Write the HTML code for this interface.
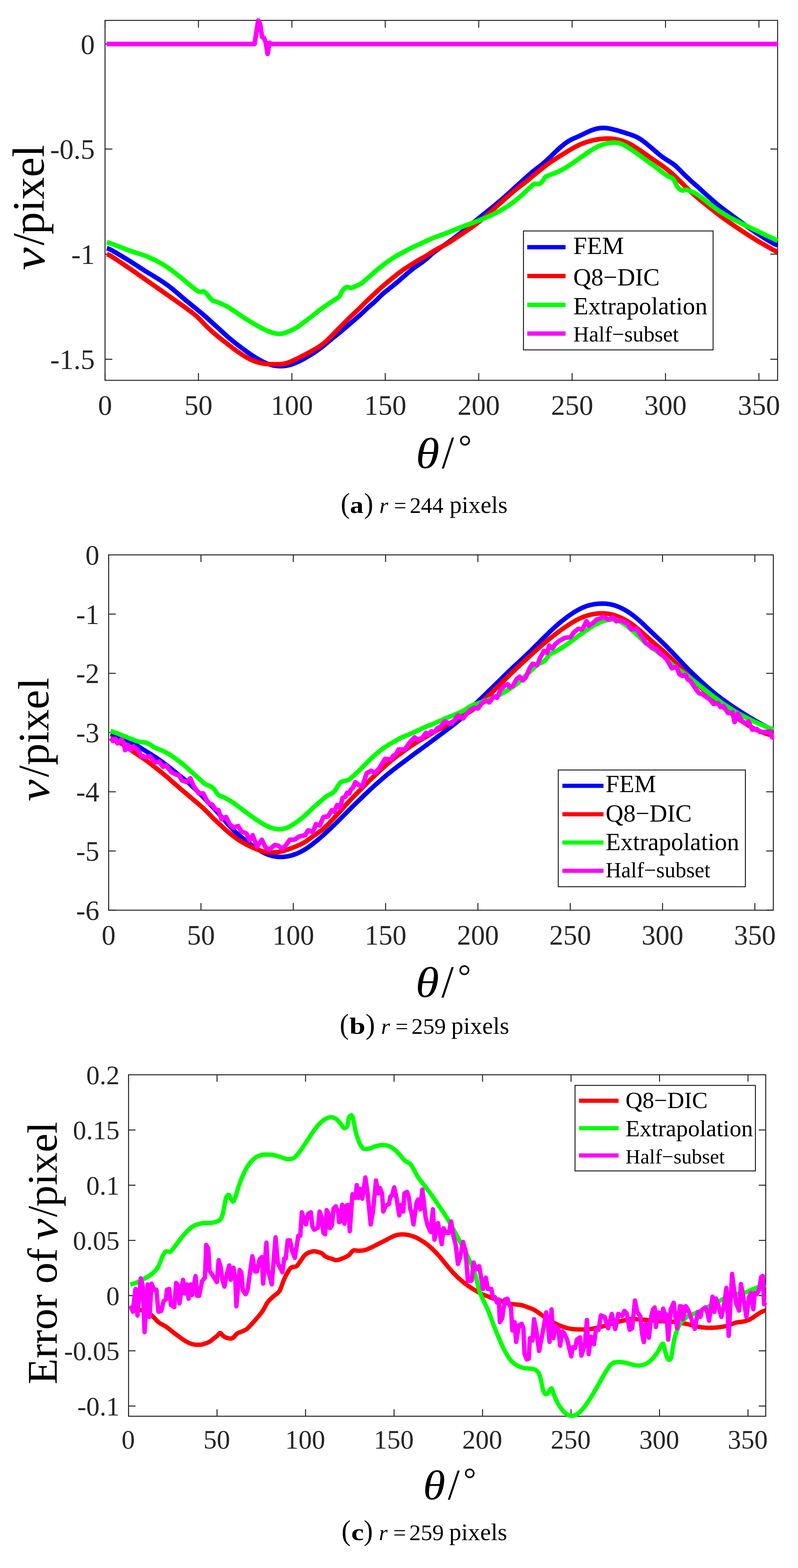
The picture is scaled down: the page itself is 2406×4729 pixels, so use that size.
<!DOCTYPE html>
<html><head><meta charset="utf-8"><title>figure</title>
<style>html,body{margin:0;padding:0;background:#fff}svg{display:block}</style></head>
<body>
<svg width="2406" height="4729" viewBox="0 0 2406 4729">
<rect width="2406" height="4729" fill="#fff"/>
<g stroke="#262626" stroke-width="3" fill="none" stroke-linecap="square">
<rect x="316.7" y="61.5" width="2027.8" height="1085.5"/>
</g>
<g stroke="#262626" stroke-width="3" fill="none">
<path d="M316.7,1147.0v-22M316.7,61.5v22M598.3,1147.0v-22M598.3,61.5v22M880.0,1147.0v-22M880.0,61.5v22M1161.6,1147.0v-22M1161.6,61.5v22M1443.3,1147.0v-22M1443.3,61.5v22M1724.9,1147.0v-22M1724.9,61.5v22M2006.5,1147.0v-22M2006.5,61.5v22M2288.2,1147.0v-22M2288.2,61.5v22M316.7,132.7h22M2344.5,132.7h-22M316.7,449.6h22M2344.5,449.6h-22M316.7,766.5h22M2344.5,766.5h-22M316.7,1083.4h22M2344.5,1083.4h-22"/>
</g>
<g font-family="'Liberation Serif',serif" font-size="85" fill="#262626">
<text x="316.7" y="1251.0" text-anchor="middle">0</text>
<text x="598.3" y="1251.0" text-anchor="middle">50</text>
<text x="880.0" y="1251.0" text-anchor="middle">100</text>
<text x="1161.6" y="1251.0" text-anchor="middle">150</text>
<text x="1443.3" y="1251.0" text-anchor="middle">200</text>
<text x="1724.9" y="1251.0" text-anchor="middle">250</text>
<text x="2006.5" y="1251.0" text-anchor="middle">300</text>
<text x="2288.2" y="1251.0" text-anchor="middle">350</text>
<text x="285.7" y="162.5" text-anchor="end">0</text>
<text x="285.7" y="479.4" text-anchor="end">-0.5</text>
<text x="285.7" y="796.3" text-anchor="end">-1</text>
<text x="285.7" y="1113.2" text-anchor="end">-1.5</text>
</g>
<path d="M322.3,748.4 L325.3,749.4 L328.3,750.6 L331.3,751.9 L334.3,753.4 L337.3,755.0 L340.3,756.7 L343.3,758.4 L346.3,760.2 L349.3,761.9 L352.3,763.7 L355.3,765.5 L358.3,767.3 L361.3,769.0 L364.3,770.8 L367.3,772.6 L370.3,774.4 L373.3,776.2 L376.3,778.0 L379.3,779.8 L382.3,781.7 L385.3,783.5 L388.3,785.4 L391.3,787.2 L394.3,789.1 L397.3,791.0 L400.3,792.9 L403.3,794.9 L406.3,796.8 L409.3,798.7 L412.3,800.7 L415.3,802.6 L418.3,804.6 L421.3,806.6 L424.3,808.5 L427.3,810.5 L430.3,812.5 L433.3,814.4 L436.3,816.4 L439.3,818.3 L442.3,820.1 L445.3,821.9 L448.3,823.7 L451.3,825.5 L454.3,827.3 L457.3,829.1 L460.3,830.9 L463.3,832.7 L466.3,834.5 L469.3,836.3 L472.3,838.2 L475.3,840.1 L478.3,842.0 L481.3,843.9 L484.3,845.8 L487.3,847.8 L490.3,849.8 L493.3,851.8 L496.3,853.8 L499.3,855.9 L502.3,858.0 L505.3,860.1 L508.3,862.3 L511.3,864.7 L514.3,867.1 L517.3,869.5 L520.3,871.9 L523.3,874.3 L526.3,876.8 L529.3,879.3 L532.3,881.8 L535.3,884.4 L538.3,887.0 L541.3,889.5 L544.3,892.1 L547.3,894.7 L550.3,897.3 L553.3,899.9 L556.3,902.5 L559.3,905.0 L562.3,907.5 L565.3,909.9 L568.3,912.3 L571.3,914.7 L574.3,917.2 L577.3,919.6 L580.3,922.0 L583.3,924.5 L586.3,927.0 L589.3,929.4 L592.3,931.9 L595.3,934.3 L598.3,936.8 L601.3,939.2 L604.3,941.7 L607.3,944.2 L610.3,946.7 L613.3,949.2 L616.3,951.8 L619.3,954.4 L622.3,957.1 L625.3,959.8 L628.3,962.6 L631.3,965.3 L634.3,968.1 L637.3,970.8 L640.3,973.6 L643.3,976.3 L646.3,979.0 L649.3,981.7 L652.3,984.4 L655.3,987.1 L658.3,989.8 L661.3,992.5 L664.3,995.3 L667.3,998.0 L670.3,1000.8 L673.3,1003.5 L676.3,1006.3 L679.3,1009.0 L682.3,1011.7 L685.3,1014.4 L688.3,1017.1 L691.3,1019.7 L694.3,1022.2 L697.3,1024.7 L700.3,1027.2 L703.3,1029.6 L706.3,1032.0 L709.3,1034.4 L712.3,1036.7 L715.3,1039.1 L718.3,1041.4 L721.3,1043.6 L724.3,1045.9 L727.3,1048.2 L730.3,1050.4 L733.3,1052.7 L736.3,1054.9 L739.3,1057.1 L742.3,1059.3 L745.3,1061.5 L748.3,1063.6 L751.3,1065.7 L754.3,1067.8 L757.3,1069.8 L760.3,1071.8 L763.3,1073.8 L766.3,1075.7 L769.3,1077.6 L772.3,1079.4 L775.3,1081.2 L778.3,1083.0 L781.3,1084.7 L784.3,1086.4 L787.3,1088.0 L790.3,1089.6 L793.3,1091.2 L796.3,1092.7 L799.3,1094.1 L802.3,1095.3 L805.3,1096.5 L808.3,1097.7 L811.3,1098.7 L814.3,1099.7 L817.3,1100.5 L820.3,1101.3 L823.3,1102.0 L826.3,1102.5 L829.4,1103.0 L832.4,1103.4 L835.4,1103.8 L838.4,1104.0 L841.4,1104.2 L844.4,1104.2 L847.4,1104.2 L850.4,1104.2 L853.4,1104.0 L856.4,1103.8 L859.4,1103.4 L862.4,1103.0 L865.4,1102.5 L868.4,1101.9 L871.4,1101.2 L874.4,1100.5 L877.4,1099.6 L880.4,1098.6 L883.4,1097.5 L886.4,1096.3 L889.4,1095.1 L892.4,1093.9 L895.4,1092.6 L898.4,1091.2 L901.4,1089.8 L904.4,1088.4 L907.4,1086.9 L910.4,1085.3 L913.4,1083.7 L916.4,1082.1 L919.4,1080.4 L922.4,1078.6 L925.4,1076.9 L928.4,1075.1 L931.4,1073.3 L934.4,1071.5 L937.4,1069.6 L940.4,1067.8 L943.4,1065.9 L946.4,1063.9 L949.4,1062.0 L952.4,1060.0 L955.4,1057.9 L958.4,1055.8 L961.4,1053.6 L964.4,1051.4 L967.4,1049.2 L970.4,1046.9 L973.4,1044.5 L976.4,1042.1 L979.4,1039.6 L982.4,1037.1 L985.4,1034.6 L988.4,1032.0 L991.4,1029.5 L994.4,1026.9 L997.4,1024.4 L1000.4,1021.9 L1003.4,1019.4 L1006.4,1017.0 L1009.4,1014.6 L1012.4,1012.2 L1015.4,1009.8 L1018.4,1007.5 L1021.4,1005.1 L1024.4,1002.7 L1027.4,1000.2 L1030.4,997.7 L1033.4,995.2 L1036.4,992.6 L1039.4,990.1 L1042.4,987.5 L1045.4,984.9 L1048.4,982.3 L1051.4,979.7 L1054.4,977.1 L1057.4,974.5 L1060.4,972.0 L1063.4,969.4 L1066.4,966.9 L1069.4,964.3 L1072.4,961.7 L1075.4,959.1 L1078.4,956.5 L1081.4,953.9 L1084.4,951.2 L1087.4,948.5 L1090.4,945.7 L1093.4,942.9 L1096.4,940.0 L1099.4,937.2 L1102.4,934.3 L1105.4,931.5 L1108.4,928.7 L1111.4,926.1 L1114.4,923.4 L1117.4,920.9 L1120.4,918.3 L1123.4,915.8 L1126.4,913.1 L1129.4,910.4 L1132.4,907.6 L1135.4,904.7 L1138.4,901.7 L1141.4,898.7 L1144.4,895.7 L1147.4,892.7 L1150.4,889.9 L1153.4,887.1 L1156.4,884.4 L1159.4,881.9 L1162.4,879.6 L1165.4,877.2 L1168.4,874.9 L1171.4,872.5 L1174.4,870.1 L1177.4,867.7 L1180.4,865.3 L1183.4,862.9 L1186.4,860.4 L1189.4,858.0 L1192.4,855.5 L1195.4,853.0 L1198.4,850.5 L1201.4,848.1 L1204.4,845.5 L1207.4,842.8 L1210.4,840.1 L1213.4,837.4 L1216.4,834.8 L1219.4,832.2 L1222.4,829.5 L1225.4,826.9 L1228.4,824.4 L1231.4,821.8 L1234.4,819.3 L1237.4,816.8 L1240.4,814.3 L1243.4,811.9 L1246.4,809.5 L1249.4,807.2 L1252.4,805.1 L1255.4,803.0 L1258.4,800.9 L1261.4,798.8 L1264.4,796.8 L1267.4,794.7 L1270.4,792.6 L1273.4,790.5 L1276.4,788.3 L1279.4,786.0 L1282.4,783.6 L1285.4,781.1 L1288.4,778.6 L1291.4,775.9 L1294.4,773.3 L1297.4,770.5 L1300.4,767.7 L1303.4,765.1 L1306.4,762.6 L1309.4,760.1 L1312.4,757.8 L1315.4,755.6 L1318.4,753.5 L1321.4,751.4 L1324.4,749.3 L1327.4,747.3 L1330.4,745.3 L1333.4,743.3 L1336.4,741.3 L1339.4,739.3 L1342.4,737.2 L1345.4,735.1 L1348.4,733.0 L1351.4,730.9 L1354.4,728.7 L1357.4,726.5 L1360.4,724.3 L1363.4,722.1 L1366.4,719.9 L1369.4,717.6 L1372.4,715.4 L1375.4,713.1 L1378.4,710.8 L1381.4,708.5 L1384.4,706.2 L1387.4,703.9 L1390.4,701.5 L1393.4,699.1 L1396.4,696.7 L1399.4,694.3 L1402.4,691.9 L1405.4,689.4 L1408.4,687.0 L1411.4,684.5 L1414.4,682.0 L1417.4,679.5 L1420.4,677.0 L1423.4,674.5 L1426.4,672.0 L1429.4,669.5 L1432.4,667.1 L1435.4,664.6 L1438.4,662.2 L1441.4,659.7 L1444.4,657.3 L1447.4,654.9 L1450.4,652.5 L1453.4,650.1 L1456.4,647.7 L1459.4,645.3 L1462.4,642.9 L1465.4,640.6 L1468.4,638.2 L1471.4,635.7 L1474.4,633.3 L1477.4,630.9 L1480.4,628.5 L1483.4,626.0 L1486.4,623.5 L1489.4,621.1 L1492.4,618.6 L1495.4,616.1 L1498.4,613.6 L1501.4,611.0 L1504.4,608.5 L1507.4,606.0 L1510.4,603.4 L1513.4,600.8 L1516.4,598.2 L1519.4,595.6 L1522.4,593.0 L1525.4,590.4 L1528.4,587.7 L1531.4,585.0 L1534.4,582.3 L1537.4,579.5 L1540.4,576.8 L1543.4,574.0 L1546.4,571.3 L1549.4,568.5 L1552.4,565.7 L1555.4,563.0 L1558.4,560.2 L1561.4,557.5 L1564.4,554.8 L1567.4,552.1 L1570.4,549.3 L1573.4,546.6 L1576.4,543.9 L1579.4,541.2 L1582.4,538.5 L1585.4,535.8 L1588.4,533.1 L1591.4,530.4 L1594.4,527.7 L1597.4,525.1 L1600.4,522.5 L1603.4,520.0 L1606.4,517.5 L1609.4,515.1 L1612.4,512.7 L1615.4,510.4 L1618.4,508.1 L1621.4,505.8 L1624.4,503.5 L1627.4,501.2 L1630.4,498.8 L1633.4,496.4 L1636.4,493.9 L1639.4,491.4 L1642.4,488.8 L1645.4,486.1 L1648.4,483.4 L1651.4,480.7 L1654.4,477.8 L1657.4,474.9 L1660.4,472.0 L1663.4,469.1 L1666.4,466.1 L1669.4,463.2 L1672.4,460.2 L1675.4,457.4 L1678.4,454.5 L1681.4,451.7 L1684.4,448.9 L1687.4,446.2 L1690.4,443.6 L1693.4,441.1 L1696.4,438.6 L1699.4,436.2 L1702.4,433.8 L1705.4,431.6 L1708.4,429.5 L1711.4,427.4 L1714.4,425.5 L1717.4,423.7 L1720.4,422.1 L1723.4,420.5 L1726.4,419.1 L1729.4,417.7 L1732.4,416.4 L1735.4,415.1 L1738.4,413.8 L1741.4,412.5 L1744.4,411.2 L1747.4,409.8 L1750.4,408.4 L1753.4,407.0 L1756.4,405.5 L1759.4,404.1 L1762.4,402.6 L1765.4,401.1 L1768.4,399.7 L1771.4,398.3 L1774.4,396.9 L1777.4,395.6 L1780.4,394.3 L1783.4,393.1 L1786.4,392.0 L1789.4,390.9 L1792.4,390.0 L1795.4,389.1 L1798.4,388.3 L1801.4,387.7 L1804.4,387.1 L1807.4,386.6 L1810.4,386.3 L1813.4,386.0 L1816.4,385.9 L1819.4,385.8 L1822.4,385.9 L1825.4,386.1 L1828.4,386.4 L1831.4,386.7 L1834.4,387.2 L1837.4,387.7 L1840.5,388.3 L1843.5,389.0 L1846.5,389.7 L1849.5,390.4 L1852.5,391.2 L1855.5,392.0 L1858.5,392.8 L1861.5,393.6 L1864.5,394.5 L1867.5,395.4 L1870.5,396.3 L1873.5,397.2 L1876.5,398.1 L1879.5,399.0 L1882.5,399.9 L1885.5,400.9 L1888.5,401.8 L1891.5,402.8 L1894.5,403.7 L1897.5,404.7 L1900.5,405.7 L1903.5,406.8 L1906.5,407.8 L1909.5,409.0 L1912.5,410.1 L1915.5,411.4 L1918.5,412.8 L1921.5,414.3 L1924.5,415.9 L1927.5,417.6 L1930.5,419.5 L1933.5,421.5 L1936.5,423.6 L1939.5,425.8 L1942.5,428.1 L1945.5,430.4 L1948.5,432.8 L1951.5,435.3 L1954.5,437.8 L1957.5,440.3 L1960.5,442.8 L1963.5,445.3 L1966.5,447.9 L1969.5,450.4 L1972.5,453.0 L1975.5,455.6 L1978.5,458.1 L1981.5,460.7 L1984.5,463.3 L1987.5,465.8 L1990.5,468.2 L1993.5,470.6 L1996.5,472.9 L1999.5,475.0 L2002.5,477.1 L2005.5,479.1 L2008.5,481.0 L2011.5,482.9 L2014.5,484.8 L2017.5,486.6 L2020.5,488.5 L2023.5,490.5 L2026.5,492.5 L2029.5,494.6 L2032.5,496.9 L2035.5,499.3 L2038.5,501.9 L2041.5,504.7 L2044.5,507.6 L2047.5,510.6 L2050.5,513.6 L2053.5,516.7 L2056.5,519.8 L2059.5,522.8 L2062.5,525.7 L2065.5,528.6 L2068.5,531.5 L2071.5,534.3 L2074.5,537.1 L2077.5,540.0 L2080.5,542.8 L2083.5,545.7 L2086.5,548.4 L2089.5,551.1 L2092.5,553.7 L2095.5,556.3 L2098.5,558.8 L2101.5,561.4 L2104.5,564.1 L2107.5,566.8 L2110.5,569.6 L2113.5,572.5 L2116.5,575.3 L2119.5,578.1 L2122.5,580.9 L2125.5,583.6 L2128.5,586.2 L2131.5,588.8 L2134.5,591.5 L2137.5,594.1 L2140.5,596.7 L2143.5,599.4 L2146.5,602.1 L2149.5,604.8 L2152.5,607.4 L2155.5,610.0 L2158.5,612.6 L2161.5,615.2 L2164.5,617.7 L2167.5,620.1 L2170.5,622.5 L2173.5,624.8 L2176.5,627.2 L2179.5,629.4 L2182.5,631.7 L2185.5,633.9 L2188.5,636.2 L2191.5,638.4 L2194.5,640.6 L2197.5,642.8 L2200.5,645.0 L2203.5,647.2 L2206.5,649.5 L2209.5,651.7 L2212.5,653.9 L2215.5,656.1 L2218.5,658.3 L2221.5,660.4 L2224.5,662.6 L2227.5,664.8 L2230.5,667.0 L2233.5,669.1 L2236.5,671.3 L2239.5,673.5 L2242.5,675.7 L2245.5,677.9 L2248.5,680.1 L2251.5,682.3 L2254.5,684.5 L2257.5,686.7 L2260.5,688.8 L2263.5,691.0 L2266.5,693.0 L2269.5,695.1 L2272.5,697.1 L2275.5,699.1 L2278.5,701.1 L2281.5,703.1 L2284.5,705.1 L2287.5,707.0 L2290.5,708.9 L2293.5,710.9 L2296.5,712.8 L2299.5,714.7 L2302.5,716.6 L2305.5,718.5 L2308.5,720.4 L2311.5,722.2 L2314.5,724.1 L2317.5,725.9 L2320.5,727.7 L2323.5,729.5 L2326.5,731.2 L2329.5,732.9 L2332.5,734.5 L2335.5,736.0 L2338.5,737.3 L2341.5,738.5 L2344.5,739.4" fill="none" stroke="#0000ff" stroke-width="14" stroke-linejoin="round" stroke-linecap="butt"/>
<path d="M322.3,766.4 L325.3,767.5 L328.3,768.9 L331.3,770.5 L334.3,772.2 L337.3,774.1 L340.3,776.0 L343.3,777.9 L346.3,779.9 L349.3,781.9 L352.3,783.8 L355.3,785.8 L358.3,787.8 L361.3,789.8 L364.3,791.8 L367.3,793.8 L370.3,795.8 L373.3,797.8 L376.3,799.9 L379.3,801.9 L382.3,803.9 L385.3,806.0 L388.3,808.0 L391.3,810.1 L394.3,812.1 L397.3,814.2 L400.3,816.3 L403.3,818.4 L406.3,820.4 L409.3,822.5 L412.3,824.6 L415.3,826.8 L418.3,828.9 L421.3,831.0 L424.3,833.1 L427.3,835.2 L430.3,837.3 L433.3,839.4 L436.3,841.5 L439.3,843.6 L442.3,845.7 L445.3,847.8 L448.3,849.9 L451.3,852.0 L454.3,854.1 L457.3,856.2 L460.3,858.3 L463.3,860.4 L466.3,862.5 L469.3,864.6 L472.3,866.7 L475.3,868.8 L478.3,870.9 L481.3,873.0 L484.3,875.1 L487.3,877.2 L490.3,879.3 L493.3,881.4 L496.3,883.5 L499.3,885.6 L502.3,887.7 L505.3,889.8 L508.3,891.9 L511.3,894.0 L514.3,896.1 L517.3,898.2 L520.3,900.3 L523.3,902.4 L526.3,904.5 L529.3,906.6 L532.3,908.8 L535.3,910.9 L538.3,913.0 L541.3,915.1 L544.3,917.2 L547.3,919.4 L550.3,921.5 L553.3,923.7 L556.3,925.8 L559.3,928.0 L562.3,930.2 L565.3,932.4 L568.3,934.6 L571.3,936.8 L574.3,939.1 L577.3,941.4 L580.3,943.7 L583.3,946.0 L586.3,948.4 L589.3,950.9 L592.3,953.5 L595.3,956.1 L598.3,958.9 L601.3,961.8 L604.3,964.9 L607.3,968.1 L610.3,971.3 L613.3,974.5 L616.3,977.7 L619.3,980.8 L622.3,983.8 L625.3,986.8 L628.3,989.7 L631.3,992.5 L634.3,995.2 L637.3,997.9 L640.3,1000.6 L643.3,1003.2 L646.3,1005.8 L649.3,1008.3 L652.3,1010.8 L655.3,1013.3 L658.3,1015.7 L661.3,1018.1 L664.3,1020.6 L667.3,1022.9 L670.3,1025.3 L673.3,1027.7 L676.3,1030.0 L679.3,1032.4 L682.3,1034.7 L685.3,1037.0 L688.3,1039.4 L691.3,1041.7 L694.3,1044.0 L697.3,1046.3 L700.3,1048.6 L703.3,1050.8 L706.3,1053.1 L709.3,1055.3 L712.3,1057.5 L715.3,1059.6 L718.3,1061.8 L721.3,1063.8 L724.3,1065.9 L727.3,1067.9 L730.3,1069.9 L733.3,1071.8 L736.3,1073.6 L739.3,1075.5 L742.3,1077.3 L745.3,1079.0 L748.3,1080.6 L751.3,1082.2 L754.3,1083.7 L757.3,1085.1 L760.3,1086.4 L763.3,1087.7 L766.3,1088.9 L769.3,1090.0 L772.3,1091.0 L775.3,1092.0 L778.3,1092.9 L781.3,1093.7 L784.3,1094.4 L787.3,1095.1 L790.3,1095.7 L793.3,1096.3 L796.3,1096.8 L799.3,1097.2 L802.3,1097.5 L805.3,1097.8 L808.3,1098.0 L811.3,1098.2 L814.3,1098.4 L817.3,1098.5 L820.3,1098.6 L823.3,1098.6 L826.3,1098.7 L829.4,1098.7 L832.4,1098.7 L835.4,1098.6 L838.4,1098.6 L841.4,1098.4 L844.4,1098.3 L847.4,1098.1 L850.4,1097.8 L853.4,1097.4 L856.4,1096.8 L859.4,1096.2 L862.4,1095.4 L865.4,1094.6 L868.4,1093.6 L871.4,1092.6 L874.4,1091.4 L877.4,1090.2 L880.4,1088.9 L883.4,1087.6 L886.4,1086.2 L889.4,1084.8 L892.4,1083.4 L895.4,1082.0 L898.4,1080.5 L901.4,1079.0 L904.4,1077.4 L907.4,1075.9 L910.4,1074.4 L913.4,1072.8 L916.4,1071.2 L919.4,1069.6 L922.4,1068.0 L925.4,1066.4 L928.4,1064.8 L931.4,1063.1 L934.4,1061.5 L937.4,1059.9 L940.4,1058.2 L943.4,1056.6 L946.4,1054.9 L949.4,1053.2 L952.4,1051.4 L955.4,1049.6 L958.4,1047.7 L961.4,1045.8 L964.4,1043.8 L967.4,1041.7 L970.4,1039.6 L973.4,1037.3 L976.4,1034.9 L979.4,1032.4 L982.4,1029.8 L985.4,1027.1 L988.4,1024.3 L991.4,1021.4 L994.4,1018.4 L997.4,1015.4 L1000.4,1012.3 L1003.4,1009.2 L1006.4,1006.1 L1009.4,1003.0 L1012.4,999.9 L1015.4,996.8 L1018.4,993.8 L1021.4,990.7 L1024.4,987.7 L1027.4,984.6 L1030.4,981.6 L1033.4,978.5 L1036.4,975.5 L1039.4,972.4 L1042.4,969.4 L1045.4,966.4 L1048.4,963.4 L1051.4,960.4 L1054.4,957.5 L1057.4,954.6 L1060.4,951.8 L1063.4,949.0 L1066.4,946.2 L1069.4,943.5 L1072.4,940.7 L1075.4,937.9 L1078.4,935.0 L1081.4,932.1 L1084.4,929.2 L1087.4,926.2 L1090.4,923.2 L1093.4,920.2 L1096.4,917.1 L1099.4,914.1 L1102.4,911.2 L1105.4,908.2 L1108.4,905.3 L1111.4,902.4 L1114.4,899.6 L1117.4,896.7 L1120.4,893.9 L1123.4,891.1 L1126.4,888.3 L1129.4,885.5 L1132.4,882.7 L1135.4,879.9 L1138.4,877.1 L1141.4,874.4 L1144.4,871.7 L1147.4,869.0 L1150.4,866.3 L1153.4,863.7 L1156.4,861.1 L1159.4,858.6 L1162.4,856.0 L1165.4,853.4 L1168.4,850.8 L1171.4,848.3 L1174.4,845.8 L1177.4,843.3 L1180.4,840.9 L1183.4,838.4 L1186.4,836.0 L1189.4,833.6 L1192.4,831.2 L1195.4,828.8 L1198.4,826.4 L1201.4,824.1 L1204.4,821.8 L1207.4,819.6 L1210.4,817.4 L1213.4,815.3 L1216.4,813.2 L1219.4,811.1 L1222.4,809.1 L1225.4,807.2 L1228.4,805.2 L1231.4,803.3 L1234.4,801.4 L1237.4,799.5 L1240.4,797.6 L1243.4,795.7 L1246.4,793.9 L1249.4,792.0 L1252.4,790.2 L1255.4,788.3 L1258.4,786.6 L1261.4,784.8 L1264.4,783.1 L1267.4,781.4 L1270.4,779.8 L1273.4,778.2 L1276.4,776.5 L1279.4,774.8 L1282.4,773.0 L1285.4,771.2 L1288.4,769.3 L1291.4,767.3 L1294.4,765.3 L1297.4,763.4 L1300.4,761.4 L1303.4,759.6 L1306.4,757.8 L1309.4,756.0 L1312.4,754.3 L1315.4,752.6 L1318.4,751.0 L1321.4,749.4 L1324.4,747.8 L1327.4,746.2 L1330.4,744.6 L1333.4,743.0 L1336.4,741.4 L1339.4,739.7 L1342.4,738.0 L1345.4,736.3 L1348.4,734.5 L1351.4,732.7 L1354.4,730.8 L1357.4,729.0 L1360.4,727.1 L1363.4,725.1 L1366.4,723.2 L1369.4,721.2 L1372.4,719.3 L1375.4,717.3 L1378.4,715.3 L1381.4,713.3 L1384.4,711.2 L1387.4,709.2 L1390.4,707.2 L1393.4,705.2 L1396.4,703.2 L1399.4,701.1 L1402.4,699.1 L1405.4,697.1 L1408.4,695.0 L1411.4,693.0 L1414.4,690.9 L1417.4,688.8 L1420.4,686.7 L1423.4,684.6 L1426.4,682.4 L1429.4,680.2 L1432.4,678.0 L1435.4,675.7 L1438.4,673.4 L1441.4,671.1 L1444.4,668.7 L1447.4,666.2 L1450.4,663.8 L1453.4,661.3 L1456.4,658.7 L1459.4,656.2 L1462.4,653.6 L1465.4,651.0 L1468.4,648.4 L1471.4,645.7 L1474.4,643.1 L1477.4,640.5 L1480.4,637.8 L1483.4,635.2 L1486.4,632.5 L1489.4,629.8 L1492.4,627.1 L1495.4,624.4 L1498.4,621.7 L1501.4,619.0 L1504.4,616.3 L1507.4,613.5 L1510.4,610.8 L1513.4,608.1 L1516.4,605.4 L1519.4,602.7 L1522.4,600.0 L1525.4,597.4 L1528.4,594.7 L1531.4,592.1 L1534.4,589.5 L1537.4,586.9 L1540.4,584.3 L1543.4,581.8 L1546.4,579.2 L1549.4,576.7 L1552.4,574.2 L1555.4,571.7 L1558.4,569.3 L1561.4,566.9 L1564.4,564.5 L1567.4,562.2 L1570.4,559.9 L1573.4,557.7 L1576.4,555.5 L1579.4,553.2 L1582.4,550.9 L1585.4,548.6 L1588.4,546.1 L1591.4,543.7 L1594.4,541.1 L1597.4,538.5 L1600.4,536.0 L1603.4,533.4 L1606.4,530.9 L1609.4,528.4 L1612.4,525.9 L1615.4,523.5 L1618.4,521.1 L1621.4,518.7 L1624.4,516.3 L1627.4,513.9 L1630.4,511.5 L1633.4,509.0 L1636.4,506.6 L1639.4,504.2 L1642.4,501.8 L1645.4,499.5 L1648.4,497.2 L1651.4,495.0 L1654.4,492.8 L1657.4,490.7 L1660.4,488.7 L1663.4,486.7 L1666.4,484.7 L1669.4,482.7 L1672.4,480.8 L1675.4,478.9 L1678.4,476.9 L1681.4,475.0 L1684.4,473.1 L1687.4,471.1 L1690.4,469.2 L1693.4,467.3 L1696.4,465.5 L1699.4,463.6 L1702.4,461.8 L1705.4,459.9 L1708.4,458.1 L1711.4,456.3 L1714.4,454.5 L1717.4,452.8 L1720.4,451.0 L1723.4,449.2 L1726.4,447.5 L1729.4,445.8 L1732.4,444.1 L1735.4,442.5 L1738.4,440.9 L1741.4,439.4 L1744.4,437.9 L1747.4,436.5 L1750.4,435.2 L1753.4,433.9 L1756.4,432.7 L1759.4,431.6 L1762.4,430.5 L1765.4,429.4 L1768.4,428.4 L1771.4,427.5 L1774.4,426.6 L1777.4,425.7 L1780.4,424.9 L1783.4,424.1 L1786.4,423.4 L1789.4,422.7 L1792.4,422.1 L1795.4,421.5 L1798.4,421.0 L1801.4,420.5 L1804.4,420.0 L1807.4,419.6 L1810.4,419.3 L1813.4,419.0 L1816.4,418.7 L1819.4,418.4 L1822.4,418.2 L1825.4,418.1 L1828.4,418.0 L1831.4,417.9 L1834.4,417.9 L1837.4,418.0 L1840.5,418.1 L1843.5,418.3 L1846.5,418.6 L1849.5,418.9 L1852.5,419.3 L1855.5,419.8 L1858.5,420.3 L1861.5,420.8 L1864.5,421.5 L1867.5,422.2 L1870.5,423.0 L1873.5,423.8 L1876.5,424.8 L1879.5,425.8 L1882.5,426.8 L1885.5,428.0 L1888.5,429.2 L1891.5,430.6 L1894.5,432.0 L1897.5,433.5 L1900.5,435.0 L1903.5,436.7 L1906.5,438.4 L1909.5,440.1 L1912.5,442.0 L1915.5,443.9 L1918.5,445.8 L1921.5,447.8 L1924.5,449.8 L1927.5,451.9 L1930.5,453.9 L1933.5,456.0 L1936.5,458.1 L1939.5,460.2 L1942.5,462.3 L1945.5,464.4 L1948.5,466.5 L1951.5,468.6 L1954.5,470.7 L1957.5,472.8 L1960.5,474.9 L1963.5,477.0 L1966.5,479.1 L1969.5,481.2 L1972.5,483.3 L1975.5,485.3 L1978.5,487.4 L1981.5,489.4 L1984.5,491.5 L1987.5,493.6 L1990.5,495.6 L1993.5,497.7 L1996.5,499.9 L1999.5,502.0 L2002.5,504.2 L2005.5,506.5 L2008.5,508.8 L2011.5,511.1 L2014.5,513.5 L2017.5,516.0 L2020.5,518.5 L2023.5,521.1 L2026.5,523.8 L2029.5,526.5 L2032.5,529.3 L2035.5,532.1 L2038.5,535.0 L2041.5,537.9 L2044.5,540.8 L2047.5,543.8 L2050.5,546.8 L2053.5,549.8 L2056.5,552.8 L2059.5,555.7 L2062.5,558.7 L2065.5,561.7 L2068.5,564.6 L2071.5,567.5 L2074.5,570.4 L2077.5,573.2 L2080.5,576.0 L2083.5,578.8 L2086.5,581.6 L2089.5,584.3 L2092.5,587.0 L2095.5,589.6 L2098.5,592.3 L2101.5,594.8 L2104.5,597.4 L2107.5,600.0 L2110.5,602.5 L2113.5,604.9 L2116.5,607.4 L2119.5,609.8 L2122.5,612.3 L2125.5,614.7 L2128.5,617.1 L2131.5,619.5 L2134.5,621.9 L2137.5,624.3 L2140.5,626.7 L2143.5,629.1 L2146.5,631.5 L2149.5,633.8 L2152.5,636.2 L2155.5,638.6 L2158.5,641.0 L2161.5,643.3 L2164.5,645.6 L2167.5,647.9 L2170.5,650.2 L2173.5,652.5 L2176.5,654.7 L2179.5,656.9 L2182.5,659.1 L2185.5,661.3 L2188.5,663.4 L2191.5,665.5 L2194.5,667.6 L2197.5,669.7 L2200.5,671.8 L2203.5,673.9 L2206.5,675.9 L2209.5,678.0 L2212.5,680.1 L2215.5,682.1 L2218.5,684.1 L2221.5,686.2 L2224.5,688.2 L2227.5,690.2 L2230.5,692.2 L2233.5,694.2 L2236.5,696.2 L2239.5,698.2 L2242.5,700.1 L2245.5,702.1 L2248.5,704.1 L2251.5,706.0 L2254.5,708.0 L2257.5,709.9 L2260.5,711.8 L2263.5,713.8 L2266.5,715.7 L2269.5,717.5 L2272.5,719.4 L2275.5,721.3 L2278.5,723.1 L2281.5,724.9 L2284.5,726.7 L2287.5,728.5 L2290.5,730.3 L2293.5,732.1 L2296.5,733.8 L2299.5,735.5 L2302.5,737.2 L2305.5,738.9 L2308.5,740.6 L2311.5,742.3 L2314.5,744.0 L2317.5,745.7 L2320.5,747.4 L2323.5,749.1 L2326.5,750.8 L2329.5,752.5 L2332.5,754.2 L2335.5,755.7 L2338.5,757.2 L2341.5,758.5 L2344.5,759.5" fill="none" stroke="#ff0000" stroke-width="14" stroke-linejoin="round" stroke-linecap="butt"/>
<path d="M322.3,730.1 L325.3,731.2 L328.3,732.3 L331.3,733.4 L334.3,734.5 L337.3,735.6 L340.3,736.7 L343.3,737.8 L346.3,738.9 L349.3,740.0 L352.3,741.1 L355.3,742.2 L358.3,743.4 L361.3,744.5 L364.3,745.7 L367.3,746.8 L370.3,748.0 L373.3,749.2 L376.3,750.4 L379.3,751.6 L382.3,752.7 L385.3,753.9 L388.3,755.0 L391.3,756.1 L394.3,757.2 L397.3,758.2 L400.3,759.2 L403.3,760.1 L406.3,761.1 L409.3,762.0 L412.3,762.9 L415.3,763.8 L418.3,764.8 L421.3,765.7 L424.3,766.7 L427.3,767.7 L430.3,768.7 L433.3,769.8 L436.3,770.9 L439.3,772.1 L442.3,773.3 L445.3,774.5 L448.3,775.8 L451.3,777.1 L454.3,778.4 L457.3,779.8 L460.3,781.2 L463.3,782.6 L466.3,784.1 L469.3,785.6 L472.3,787.1 L475.3,788.7 L478.3,790.2 L481.3,791.8 L484.3,793.5 L487.3,795.2 L490.3,796.9 L493.3,798.8 L496.3,800.6 L499.3,802.6 L502.3,804.5 L505.3,806.6 L508.3,808.6 L511.3,810.7 L514.3,812.9 L517.3,815.1 L520.3,817.4 L523.3,819.7 L526.3,822.0 L529.3,824.3 L532.3,826.6 L535.3,829.0 L538.3,831.4 L541.3,833.8 L544.3,836.2 L547.3,838.6 L550.3,841.1 L553.3,843.5 L556.3,846.1 L559.3,848.6 L562.3,851.2 L565.3,853.7 L568.3,856.3 L571.3,858.8 L574.3,861.2 L577.3,863.7 L580.3,866.2 L583.3,868.7 L586.3,871.1 L589.3,873.3 L592.3,875.3 L595.3,877.2 L598.3,879.1 L601.3,880.2 L604.3,880.1 L607.3,879.6 L610.3,879.1 L613.3,878.8 L616.3,879.8 L619.3,882.4 L622.3,885.4 L625.3,888.7 L628.3,892.7 L631.3,896.6 L634.3,900.1 L637.3,903.4 L640.3,905.9 L643.3,907.4 L646.3,908.4 L649.3,909.3 L652.3,910.1 L655.3,911.1 L658.3,912.2 L661.3,913.4 L664.3,914.7 L667.3,916.0 L670.3,917.3 L673.3,918.7 L676.3,920.2 L679.3,921.7 L682.3,923.2 L685.3,924.8 L688.3,926.5 L691.3,928.2 L694.3,930.1 L697.3,932.1 L700.3,934.1 L703.3,936.1 L706.3,938.2 L709.3,940.3 L712.3,942.3 L715.3,944.3 L718.3,946.4 L721.3,948.4 L724.3,950.5 L727.3,952.6 L730.3,954.6 L733.3,956.6 L736.3,958.6 L739.3,960.5 L742.3,962.4 L745.3,964.2 L748.3,966.1 L751.3,967.9 L754.3,969.7 L757.3,971.5 L760.3,973.3 L763.3,975.1 L766.3,976.9 L769.3,978.7 L772.3,980.4 L775.3,982.1 L778.3,983.8 L781.3,985.4 L784.3,987.1 L787.3,988.6 L790.3,990.2 L793.3,991.8 L796.3,993.2 L799.3,994.7 L802.3,996.0 L805.3,997.3 L808.3,998.5 L811.3,999.8 L814.3,1000.9 L817.3,1002.0 L820.3,1003.1 L823.3,1004.0 L826.3,1004.7 L829.4,1005.4 L832.4,1006.0 L835.4,1006.6 L838.4,1006.9 L841.4,1007.0 L844.4,1006.8 L847.4,1006.5 L850.4,1006.1 L853.4,1005.7 L856.4,1005.1 L859.4,1004.2 L862.4,1003.0 L865.4,1001.7 L868.4,1000.4 L871.4,999.1 L874.4,997.8 L877.4,996.5 L880.4,995.1 L883.4,993.7 L886.4,992.2 L889.4,990.7 L892.4,989.0 L895.4,987.3 L898.4,985.5 L901.4,983.4 L904.4,981.2 L907.4,978.9 L910.4,976.6 L913.4,974.2 L916.4,971.9 L919.4,969.6 L922.4,967.4 L925.4,965.1 L928.4,962.8 L931.4,960.6 L934.4,958.3 L937.4,956.0 L940.4,953.7 L943.4,951.3 L946.4,948.9 L949.4,946.5 L952.4,944.0 L955.4,941.6 L958.4,939.1 L961.4,936.8 L964.4,934.5 L967.4,932.3 L970.4,930.1 L973.4,928.0 L976.4,925.9 L979.4,923.8 L982.4,921.8 L985.4,919.7 L988.4,917.7 L991.4,915.7 L994.4,913.7 L997.4,911.8 L1000.4,909.9 L1003.4,907.9 L1006.4,905.9 L1009.4,903.9 L1012.4,901.9 L1015.4,900.1 L1018.4,898.1 L1021.4,895.8 L1024.4,892.7 L1027.4,886.7 L1030.4,880.2 L1033.4,875.4 L1036.4,871.5 L1039.4,869.1 L1042.4,867.1 L1045.4,865.9 L1048.4,865.9 L1051.4,866.6 L1054.4,867.5 L1057.4,868.0 L1060.4,867.9 L1063.4,867.1 L1066.4,865.9 L1069.4,864.4 L1072.4,863.0 L1075.4,861.7 L1078.4,860.4 L1081.4,859.1 L1084.4,857.7 L1087.4,856.1 L1090.4,854.2 L1093.4,851.9 L1096.4,849.4 L1099.4,846.8 L1102.4,844.1 L1105.4,841.4 L1108.4,838.8 L1111.4,836.2 L1114.4,833.6 L1117.4,830.9 L1120.4,828.3 L1123.4,825.7 L1126.4,823.1 L1129.4,820.5 L1132.4,817.9 L1135.4,815.4 L1138.4,812.8 L1141.4,810.3 L1144.4,807.9 L1147.4,805.5 L1150.4,803.1 L1153.4,800.7 L1156.4,798.4 L1159.4,796.1 L1162.4,793.8 L1165.4,791.6 L1168.4,789.4 L1171.4,787.3 L1174.4,785.2 L1177.4,783.1 L1180.4,781.1 L1183.4,779.1 L1186.4,777.1 L1189.4,775.2 L1192.4,773.4 L1195.4,771.6 L1198.4,769.9 L1201.4,768.3 L1204.4,766.7 L1207.4,765.1 L1210.4,763.6 L1213.4,762.0 L1216.4,760.4 L1219.4,758.8 L1222.4,757.1 L1225.4,755.4 L1228.4,753.8 L1231.4,752.1 L1234.4,750.5 L1237.4,749.0 L1240.4,747.5 L1243.4,746.1 L1246.4,744.7 L1249.4,743.3 L1252.4,741.9 L1255.4,740.6 L1258.4,739.2 L1261.4,737.9 L1264.4,736.5 L1267.4,735.1 L1270.4,733.7 L1273.4,732.3 L1276.4,731.0 L1279.4,729.6 L1282.4,728.2 L1285.4,726.8 L1288.4,725.4 L1291.4,724.0 L1294.4,722.6 L1297.4,721.3 L1300.4,720.0 L1303.4,718.8 L1306.4,717.6 L1309.4,716.4 L1312.4,715.3 L1315.4,714.2 L1318.4,713.1 L1321.4,712.0 L1324.4,710.9 L1327.4,709.8 L1330.4,708.7 L1333.4,707.6 L1336.4,706.5 L1339.4,705.4 L1342.4,704.3 L1345.4,703.2 L1348.4,702.0 L1351.4,700.8 L1354.4,699.6 L1357.4,698.4 L1360.4,697.2 L1363.4,696.0 L1366.4,694.8 L1369.4,693.6 L1372.4,692.3 L1375.4,691.1 L1378.4,689.9 L1381.4,688.7 L1384.4,687.5 L1387.4,686.3 L1390.4,685.2 L1393.4,684.0 L1396.4,682.9 L1399.4,681.7 L1402.4,680.6 L1405.4,679.5 L1408.4,678.4 L1411.4,677.3 L1414.4,676.2 L1417.4,675.1 L1420.4,674.0 L1423.4,672.9 L1426.4,671.8 L1429.4,670.6 L1432.4,669.5 L1435.4,668.3 L1438.4,667.1 L1441.4,665.9 L1444.4,664.7 L1447.4,663.5 L1450.4,662.3 L1453.4,661.1 L1456.4,659.9 L1459.4,658.6 L1462.4,657.4 L1465.4,656.1 L1468.4,654.8 L1471.4,653.5 L1474.4,652.1 L1477.4,650.8 L1480.4,649.4 L1483.4,647.9 L1486.4,646.5 L1489.4,645.0 L1492.4,643.5 L1495.4,642.0 L1498.4,640.5 L1501.4,638.9 L1504.4,637.3 L1507.4,635.6 L1510.4,634.0 L1513.4,632.3 L1516.4,630.5 L1519.4,628.8 L1522.4,627.0 L1525.4,625.1 L1528.4,623.2 L1531.4,621.2 L1534.4,619.2 L1537.4,617.1 L1540.4,615.0 L1543.4,612.8 L1546.4,610.5 L1549.4,608.2 L1552.4,605.9 L1555.4,603.5 L1558.4,601.1 L1561.4,598.6 L1564.4,596.1 L1567.4,593.6 L1570.4,591.0 L1573.4,588.5 L1576.4,585.9 L1579.4,583.1 L1582.4,580.2 L1585.4,577.2 L1588.4,574.2 L1591.4,571.2 L1594.4,568.3 L1597.4,565.6 L1600.4,563.1 L1603.4,560.3 L1606.4,557.4 L1609.4,555.1 L1612.4,554.0 L1615.4,554.1 L1618.4,554.4 L1621.4,554.8 L1624.4,554.9 L1627.4,554.0 L1630.4,551.9 L1633.4,549.4 L1636.4,545.7 L1639.4,540.7 L1642.4,535.9 L1645.4,533.0 L1648.4,531.3 L1651.4,530.0 L1654.4,528.9 L1657.4,527.8 L1660.4,526.7 L1663.4,525.5 L1666.4,524.3 L1669.4,523.2 L1672.4,522.0 L1675.4,520.9 L1678.4,519.7 L1681.4,518.4 L1684.4,517.1 L1687.4,515.6 L1690.4,514.1 L1693.4,512.5 L1696.4,510.9 L1699.4,509.2 L1702.4,507.5 L1705.4,505.7 L1708.4,503.9 L1711.4,502.1 L1714.4,500.1 L1717.4,498.2 L1720.4,496.1 L1723.4,494.1 L1726.4,492.0 L1729.4,490.0 L1732.4,487.9 L1735.4,485.9 L1738.4,483.8 L1741.4,481.6 L1744.4,479.5 L1747.4,477.4 L1750.4,475.3 L1753.4,473.2 L1756.4,471.1 L1759.4,468.9 L1762.4,466.8 L1765.4,464.6 L1768.4,462.5 L1771.4,460.4 L1774.4,458.4 L1777.4,456.5 L1780.4,454.5 L1783.4,452.6 L1786.4,450.7 L1789.4,448.9 L1792.4,447.2 L1795.4,445.5 L1798.4,444.0 L1801.4,442.6 L1804.4,441.2 L1807.4,439.9 L1810.4,438.7 L1813.4,437.5 L1816.4,436.5 L1819.4,435.5 L1822.4,434.6 L1825.4,433.8 L1828.4,433.0 L1831.4,432.2 L1834.4,431.6 L1837.4,431.1 L1840.5,430.8 L1843.5,430.5 L1846.5,430.2 L1849.5,430.1 L1852.5,430.0 L1855.5,430.1 L1858.5,430.3 L1861.5,430.8 L1864.5,431.3 L1867.5,431.9 L1870.5,432.8 L1873.5,433.9 L1876.5,435.2 L1879.5,436.7 L1882.5,438.2 L1885.5,439.8 L1888.5,441.4 L1891.5,443.2 L1894.5,445.1 L1897.5,447.0 L1900.5,449.1 L1903.5,451.0 L1906.5,453.0 L1909.5,455.1 L1912.5,457.2 L1915.5,459.3 L1918.5,461.4 L1921.5,463.6 L1924.5,465.7 L1927.5,467.9 L1930.5,470.1 L1933.5,472.3 L1936.5,474.5 L1939.5,476.8 L1942.5,479.0 L1945.5,481.2 L1948.5,483.4 L1951.5,485.6 L1954.5,487.8 L1957.5,489.9 L1960.5,492.1 L1963.5,494.2 L1966.5,496.3 L1969.5,498.5 L1972.5,500.7 L1975.5,503.0 L1978.5,505.3 L1981.5,507.7 L1984.5,510.0 L1987.5,512.4 L1990.5,514.8 L1993.5,517.1 L1996.5,519.4 L1999.5,521.6 L2002.5,523.7 L2005.5,525.9 L2008.5,528.0 L2011.5,529.9 L2014.5,531.6 L2017.5,533.0 L2020.5,534.2 L2023.5,535.6 L2026.5,537.3 L2029.5,539.6 L2032.5,543.8 L2035.5,550.6 L2038.5,556.4 L2041.5,561.5 L2044.5,565.8 L2047.5,568.8 L2050.5,571.3 L2053.5,573.3 L2056.5,574.5 L2059.5,574.5 L2062.5,573.7 L2065.5,572.9 L2068.5,572.3 L2071.5,572.6 L2074.5,573.4 L2077.5,574.7 L2080.5,575.9 L2083.5,577.1 L2086.5,578.4 L2089.5,579.8 L2092.5,581.2 L2095.5,582.8 L2098.5,584.4 L2101.5,586.2 L2104.5,588.2 L2107.5,590.2 L2110.5,592.4 L2113.5,594.7 L2116.5,596.9 L2119.5,599.2 L2122.5,601.6 L2125.5,604.0 L2128.5,606.5 L2131.5,608.9 L2134.5,611.3 L2137.5,613.6 L2140.5,615.9 L2143.5,618.2 L2146.5,620.5 L2149.5,622.7 L2152.5,624.9 L2155.5,627.1 L2158.5,629.2 L2161.5,631.4 L2164.5,633.5 L2167.5,635.6 L2170.5,637.6 L2173.5,639.5 L2176.5,641.4 L2179.5,643.3 L2182.5,645.1 L2185.5,646.9 L2188.5,648.7 L2191.5,650.4 L2194.5,652.1 L2197.5,653.8 L2200.5,655.5 L2203.5,657.1 L2206.5,658.7 L2209.5,660.3 L2212.5,661.9 L2215.5,663.5 L2218.5,665.1 L2221.5,666.6 L2224.5,668.1 L2227.5,669.6 L2230.5,671.1 L2233.5,672.6 L2236.5,674.1 L2239.5,675.6 L2242.5,677.1 L2245.5,678.6 L2248.5,680.1 L2251.5,681.6 L2254.5,683.1 L2257.5,684.6 L2260.5,686.1 L2263.5,687.6 L2266.5,689.0 L2269.5,690.4 L2272.5,691.7 L2275.5,693.1 L2278.5,694.4 L2281.5,695.8 L2284.5,697.2 L2287.5,698.6 L2290.5,700.1 L2293.5,701.6 L2296.5,703.1 L2299.5,704.7 L2302.5,706.2 L2305.5,707.7 L2308.5,709.2 L2311.5,710.6 L2314.5,712.0 L2317.5,713.3 L2320.5,714.7 L2323.5,716.0 L2326.5,717.4 L2329.5,718.8 L2332.5,720.2 L2335.5,721.7 L2338.5,723.3 L2341.5,724.9 L2344.5,726.5" fill="none" stroke="#00ff00" stroke-width="14" stroke-linejoin="round" stroke-linecap="butt"/>
<path d="M321.5,132.8 L767.4,132.8 L778.6,62.0 L784.3,72.7 L789.9,110.9 L795.5,113.9 L801.2,127.6 L806.8,162.7 L812.4,129.2 L818.0,132.2 L823.7,132.8 L2345.5,132.8" fill="none" stroke="#ff00ff" stroke-width="14" stroke-linejoin="round" stroke-linecap="butt"/>
<rect x="1578.3" y="696.6" width="571.7" height="358.6" fill="#fff" stroke="#262626" stroke-width="3"/>
<path d="M1589.7,745.4H1705.2" stroke="#0000ff" stroke-width="13" fill="none"/>
<text x="1728.5" y="765.7" font-family="'Liberation Serif',serif" font-size="74.3" fill="#000">FEM</text>
<path d="M1589.7,832.6H1705.2" stroke="#ff0000" stroke-width="13" fill="none"/>
<text x="1728.5" y="860.9" font-family="'Liberation Serif',serif" font-size="74.3" fill="#000">Q8−DIC</text>
<path d="M1589.7,919.4H1705.2" stroke="#00ff00" stroke-width="13" fill="none"/>
<text x="1728.5" y="947.6" font-family="'Liberation Serif',serif" font-size="74.3" fill="#000">Extrapolation</text>
<path d="M1589.7,1006H1705.2" stroke="#ff00ff" stroke-width="13" fill="none"/>
<text x="1728.5" y="1030.4" font-family="'Liberation Serif',serif" font-size="65.7" fill="#000">Half−subset</text>
<text transform="translate(134.00,815.13) rotate(-90) scale(1.1537,1)" font-family="'Liberation Serif',serif" font-size="135.0" font-style="italic" fill="#000">v</text>
<text transform="translate(132.00,740.00) rotate(-90) scale(0.9705,1)" font-family="'Liberation Serif',serif" font-size="135" fill="#000">/</text>
<text transform="translate(132.00,707.08) rotate(-90) scale(1.0017,1)" font-family="'Liberation Serif',serif" font-size="135" fill="#000">pixel</text>
<text transform="translate(1253.39,1412.00) scale(1.1031,1)" font-family="'Liberation Serif',serif" font-size="132" font-style="italic" fill="#000">θ</text>
<text transform="translate(1332.00,1412.40) scale(0.9518,1)" font-family="'Liberation Serif',serif" font-size="139.92000000000002" fill="#000">/</text>
<text transform="translate(1382.13,1380.28) scale(0.9993,1)" font-family="'Liberation Serif',serif" font-size="99.66996699669907" fill="#000">°</text>
<text transform="translate(1027.16,1546.90) scale(0.9532,1)" font-family="'Liberation Serif',serif" font-size="87" fill="#000">(</text>
<text transform="translate(1055.06,1546.90) scale(1.1709,1)" font-family="'Liberation Serif',serif" font-size="70" font-weight="bold" fill="#000">a</text>
<text transform="translate(1097.73,1546.90) scale(0.9532,1)" font-family="'Liberation Serif',serif" font-size="87" fill="#000">)</text>
<text transform="translate(1143.69,1546.90) scale(1.0516,1)" font-family="'Liberation Serif',serif" font-size="66" font-style="italic" fill="#000">r</text>
<text transform="translate(1188.11,1546.90) scale(0.9996,1)" font-family="'Liberation Serif',serif" font-size="66" fill="#000">=</text>
<text transform="translate(1235.42,1546.90) scale(0.9985,1)" font-family="'Liberation Serif',serif" font-size="68" fill="#000">244</text>
<text transform="translate(1355.52,1546.90) scale(1.0153,1)" font-family="'Liberation Serif',serif" font-size="72" fill="#000">pixels</text>
<g stroke="#262626" stroke-width="3" fill="none" stroke-linecap="square">
<rect x="327.6" y="1673.5" width="2004.0" height="1071.6"/>
</g>
<g stroke="#262626" stroke-width="3" fill="none">
<path d="M327.6,2745.1v-21.5M327.6,1673.5v21.5M605.9,2745.1v-21.5M605.9,1673.5v21.5M884.3,2745.1v-21.5M884.3,1673.5v21.5M1162.6,2745.1v-21.5M1162.6,1673.5v21.5M1440.9,2745.1v-21.5M1440.9,1673.5v21.5M1719.3,2745.1v-21.5M1719.3,1673.5v21.5M1997.6,2745.1v-21.5M1997.6,1673.5v21.5M2275.9,2745.1v-21.5M2275.9,1673.5v21.5M327.6,1673.5h21.5M2331.6,1673.5h-21.5M327.6,1852.1h21.5M2331.6,1852.1h-21.5M327.6,2030.7h21.5M2331.6,2030.7h-21.5M327.6,2209.3h21.5M2331.6,2209.3h-21.5M327.6,2387.9h21.5M2331.6,2387.9h-21.5M327.6,2566.5h21.5M2331.6,2566.5h-21.5M327.6,2745.1h21.5M2331.6,2745.1h-21.5"/>
</g>
<g font-family="'Liberation Serif',serif" font-size="84" fill="#262626">
<text x="327.6" y="2849.1" text-anchor="middle">0</text>
<text x="605.9" y="2849.1" text-anchor="middle">50</text>
<text x="884.3" y="2849.1" text-anchor="middle">100</text>
<text x="1162.6" y="2849.1" text-anchor="middle">150</text>
<text x="1440.9" y="2849.1" text-anchor="middle">200</text>
<text x="1719.3" y="2849.1" text-anchor="middle">250</text>
<text x="1997.6" y="2849.1" text-anchor="middle">300</text>
<text x="2275.9" y="2849.1" text-anchor="middle">350</text>
<text x="299.6" y="1703.0" text-anchor="end">0</text>
<text x="299.6" y="1881.6" text-anchor="end">-1</text>
<text x="299.6" y="2060.2" text-anchor="end">-2</text>
<text x="299.6" y="2238.8" text-anchor="end">-3</text>
<text x="299.6" y="2417.4" text-anchor="end">-4</text>
<text x="299.6" y="2596.0" text-anchor="end">-5</text>
<text x="299.6" y="2774.6" text-anchor="end">-6</text>
</g>
<path d="M333.2,2214.1 L336.2,2214.8 L339.2,2215.6 L342.2,2216.5 L345.2,2217.5 L348.2,2218.6 L351.2,2219.8 L354.2,2221.0 L357.2,2222.2 L360.2,2223.5 L363.2,2224.8 L366.2,2226.1 L369.2,2227.4 L372.2,2228.7 L375.2,2230.0 L378.2,2231.4 L381.2,2232.7 L384.2,2234.1 L387.2,2235.5 L390.2,2236.9 L393.2,2238.3 L396.2,2239.8 L399.2,2241.3 L402.2,2242.8 L405.2,2244.4 L408.2,2246.1 L411.2,2247.8 L414.2,2249.5 L417.2,2251.3 L420.2,2253.2 L423.2,2255.1 L426.2,2257.0 L429.2,2258.9 L432.2,2260.8 L435.2,2262.7 L438.2,2264.6 L441.2,2266.4 L444.2,2268.3 L447.2,2270.2 L450.2,2272.0 L453.2,2273.9 L456.2,2275.7 L459.2,2277.6 L462.2,2279.5 L465.2,2281.5 L468.2,2283.4 L471.2,2285.4 L474.2,2287.5 L477.2,2289.5 L480.2,2291.6 L483.2,2293.7 L486.2,2295.9 L489.2,2298.0 L492.2,2300.2 L495.2,2302.5 L498.2,2304.7 L501.2,2307.0 L504.2,2309.3 L507.2,2311.7 L510.2,2314.0 L513.2,2316.4 L516.2,2318.8 L519.2,2321.2 L522.2,2323.6 L525.2,2326.0 L528.2,2328.4 L531.2,2330.8 L534.2,2333.2 L537.2,2335.6 L540.2,2337.9 L543.2,2340.3 L546.2,2342.7 L549.2,2345.1 L552.2,2347.5 L555.2,2350.0 L558.2,2352.4 L561.2,2354.9 L564.2,2357.4 L567.2,2360.0 L570.2,2362.6 L573.2,2365.3 L576.2,2368.1 L579.2,2370.9 L582.2,2373.8 L585.3,2376.7 L588.3,2379.6 L591.3,2382.6 L594.3,2385.6 L597.3,2388.6 L600.3,2391.6 L603.3,2394.7 L606.3,2397.7 L609.3,2400.7 L612.3,2403.8 L615.3,2406.9 L618.3,2409.9 L621.3,2413.0 L624.3,2416.2 L627.3,2419.3 L630.3,2422.5 L633.3,2425.6 L636.3,2428.8 L639.3,2432.0 L642.3,2435.2 L645.3,2438.5 L648.3,2441.7 L651.3,2445.0 L654.3,2448.2 L657.3,2451.5 L660.3,2454.9 L663.3,2458.2 L666.3,2461.6 L669.3,2465.0 L672.3,2468.4 L675.3,2471.9 L678.3,2475.3 L681.3,2478.7 L684.3,2482.2 L687.3,2485.6 L690.3,2489.0 L693.3,2492.3 L696.3,2495.6 L699.3,2498.8 L702.3,2501.9 L705.3,2504.9 L708.3,2507.8 L711.3,2510.6 L714.3,2513.3 L717.3,2516.0 L720.3,2518.5 L723.3,2521.0 L726.3,2523.5 L729.3,2525.9 L732.3,2528.3 L735.3,2530.7 L738.3,2533.1 L741.3,2535.5 L744.3,2537.8 L747.3,2540.2 L750.3,2542.5 L753.3,2544.8 L756.3,2547.0 L759.3,2549.2 L762.3,2551.4 L765.3,2553.6 L768.3,2555.6 L771.3,2557.7 L774.3,2559.7 L777.3,2561.6 L780.3,2563.5 L783.3,2565.3 L786.3,2567.0 L789.3,2568.7 L792.3,2570.3 L795.3,2571.9 L798.3,2573.3 L801.3,2574.7 L804.3,2576.0 L807.3,2577.2 L810.3,2578.3 L813.3,2579.3 L816.3,2580.3 L819.3,2581.1 L822.3,2581.8 L825.3,2582.4 L828.3,2583.0 L831.3,2583.4 L834.3,2583.8 L837.3,2584.1 L840.3,2584.3 L843.3,2584.4 L846.3,2584.4 L849.3,2584.4 L852.3,2584.3 L855.3,2584.1 L858.3,2583.8 L861.3,2583.5 L864.3,2583.0 L867.3,2582.5 L870.3,2582.0 L873.3,2581.3 L876.3,2580.6 L879.3,2579.8 L882.3,2578.9 L885.3,2577.9 L888.3,2576.9 L891.3,2575.8 L894.3,2574.6 L897.3,2573.3 L900.3,2572.0 L903.3,2570.6 L906.3,2569.2 L909.3,2567.6 L912.3,2566.0 L915.3,2564.3 L918.3,2562.5 L921.3,2560.7 L924.3,2558.7 L927.3,2556.7 L930.3,2554.7 L933.3,2552.5 L936.3,2550.3 L939.3,2548.1 L942.3,2545.8 L945.3,2543.5 L948.3,2541.1 L951.3,2538.7 L954.3,2536.2 L957.3,2533.8 L960.3,2531.2 L963.3,2528.7 L966.3,2526.1 L969.3,2523.5 L972.3,2520.8 L975.3,2518.1 L978.3,2515.4 L981.3,2512.7 L984.3,2509.9 L987.3,2507.2 L990.3,2504.4 L993.3,2501.6 L996.3,2498.7 L999.3,2495.9 L1002.3,2493.0 L1005.3,2490.1 L1008.3,2487.2 L1011.3,2484.3 L1014.3,2481.3 L1017.3,2478.4 L1020.3,2475.4 L1023.3,2472.4 L1026.3,2469.4 L1029.3,2466.4 L1032.3,2463.4 L1035.3,2460.4 L1038.3,2457.4 L1041.3,2454.4 L1044.3,2451.4 L1047.3,2448.4 L1050.3,2445.4 L1053.3,2442.4 L1056.3,2439.4 L1059.3,2436.4 L1062.3,2433.4 L1065.3,2430.4 L1068.3,2427.4 L1071.3,2424.5 L1074.3,2421.5 L1077.3,2418.6 L1080.3,2415.6 L1083.4,2412.7 L1086.4,2409.8 L1089.4,2406.9 L1092.4,2404.0 L1095.4,2401.1 L1098.4,2398.3 L1101.4,2395.4 L1104.4,2392.5 L1107.4,2389.6 L1110.4,2386.8 L1113.4,2383.9 L1116.4,2381.1 L1119.4,2378.3 L1122.4,2375.6 L1125.4,2372.8 L1128.4,2370.1 L1131.4,2367.4 L1134.4,2364.7 L1137.4,2362.1 L1140.4,2359.5 L1143.4,2356.8 L1146.4,2354.2 L1149.4,2351.6 L1152.4,2349.0 L1155.4,2346.5 L1158.4,2343.9 L1161.4,2341.4 L1164.4,2338.8 L1167.4,2336.3 L1170.4,2333.9 L1173.4,2331.4 L1176.4,2329.0 L1179.4,2326.6 L1182.4,2324.2 L1185.4,2321.8 L1188.4,2319.5 L1191.4,2317.2 L1194.4,2314.9 L1197.4,2312.6 L1200.4,2310.3 L1203.4,2308.1 L1206.4,2305.8 L1209.4,2303.6 L1212.4,2301.4 L1215.4,2299.1 L1218.4,2296.9 L1221.4,2294.6 L1224.4,2292.3 L1227.4,2290.1 L1230.4,2287.8 L1233.4,2285.6 L1236.4,2283.3 L1239.4,2281.1 L1242.4,2278.8 L1245.4,2276.6 L1248.4,2274.4 L1251.4,2272.1 L1254.4,2269.9 L1257.4,2267.7 L1260.4,2265.6 L1263.4,2263.4 L1266.4,2261.2 L1269.4,2259.0 L1272.4,2256.8 L1275.4,2254.7 L1278.4,2252.5 L1281.4,2250.3 L1284.4,2248.1 L1287.4,2245.9 L1290.4,2243.7 L1293.4,2241.5 L1296.4,2239.3 L1299.4,2237.0 L1302.4,2234.8 L1305.4,2232.5 L1308.4,2230.3 L1311.4,2228.0 L1314.4,2225.8 L1317.4,2223.5 L1320.4,2221.2 L1323.4,2219.0 L1326.4,2216.7 L1329.4,2214.5 L1332.4,2212.2 L1335.4,2210.0 L1338.4,2207.7 L1341.4,2205.5 L1344.4,2203.3 L1347.4,2201.0 L1350.4,2198.8 L1353.4,2196.5 L1356.4,2194.3 L1359.4,2192.0 L1362.4,2189.7 L1365.4,2187.4 L1368.4,2185.1 L1371.4,2182.7 L1374.4,2180.3 L1377.4,2177.9 L1380.4,2175.4 L1383.4,2172.9 L1386.4,2170.3 L1389.4,2167.6 L1392.4,2164.8 L1395.4,2161.9 L1398.4,2158.9 L1401.4,2155.9 L1404.4,2152.7 L1407.4,2149.5 L1410.4,2146.3 L1413.4,2143.1 L1416.4,2139.9 L1419.4,2136.7 L1422.4,2133.6 L1425.4,2130.6 L1428.4,2127.6 L1431.4,2124.7 L1434.4,2121.8 L1437.4,2119.0 L1440.4,2116.2 L1443.4,2113.3 L1446.4,2110.5 L1449.4,2107.6 L1452.4,2104.7 L1455.4,2101.8 L1458.4,2098.9 L1461.4,2096.0 L1464.4,2093.0 L1467.4,2090.1 L1470.4,2087.1 L1473.4,2084.2 L1476.4,2081.3 L1479.4,2078.3 L1482.4,2075.4 L1485.4,2072.5 L1488.4,2069.6 L1491.4,2066.6 L1494.4,2063.7 L1497.4,2060.7 L1500.4,2057.8 L1503.4,2054.9 L1506.4,2051.9 L1509.4,2049.0 L1512.4,2046.0 L1515.4,2043.1 L1518.4,2040.2 L1521.4,2037.2 L1524.4,2034.3 L1527.4,2031.4 L1530.4,2028.5 L1533.4,2025.6 L1536.4,2022.7 L1539.4,2019.9 L1542.4,2017.1 L1545.4,2014.2 L1548.4,2011.4 L1551.4,2008.7 L1554.4,2005.9 L1557.4,2003.1 L1560.4,2000.3 L1563.4,1997.5 L1566.4,1994.7 L1569.4,1991.9 L1572.4,1989.1 L1575.4,1986.3 L1578.4,1983.4 L1581.4,1980.6 L1584.5,1977.7 L1587.5,1974.9 L1590.5,1972.0 L1593.5,1969.1 L1596.5,1966.3 L1599.5,1963.4 L1602.5,1960.4 L1605.5,1957.5 L1608.5,1954.5 L1611.5,1951.5 L1614.5,1948.5 L1617.5,1945.5 L1620.5,1942.5 L1623.5,1939.5 L1626.5,1936.5 L1629.5,1933.5 L1632.5,1930.5 L1635.5,1927.5 L1638.5,1924.5 L1641.5,1921.5 L1644.5,1918.5 L1647.5,1915.6 L1650.5,1912.6 L1653.5,1909.7 L1656.5,1906.7 L1659.5,1903.8 L1662.5,1901.0 L1665.5,1898.1 L1668.5,1895.3 L1671.5,1892.5 L1674.5,1889.8 L1677.5,1887.1 L1680.5,1884.5 L1683.5,1881.9 L1686.5,1879.4 L1689.5,1876.9 L1692.5,1874.4 L1695.5,1872.0 L1698.5,1869.7 L1701.5,1867.3 L1704.5,1865.0 L1707.5,1862.7 L1710.5,1860.5 L1713.5,1858.3 L1716.5,1856.2 L1719.5,1854.1 L1722.5,1852.0 L1725.5,1850.0 L1728.5,1848.1 L1731.5,1846.2 L1734.5,1844.3 L1737.5,1842.5 L1740.5,1840.8 L1743.5,1839.2 L1746.5,1837.5 L1749.5,1836.0 L1752.5,1834.5 L1755.5,1833.1 L1758.5,1831.8 L1761.5,1830.6 L1764.5,1829.4 L1767.5,1828.3 L1770.5,1827.3 L1773.5,1826.3 L1776.5,1825.5 L1779.5,1824.7 L1782.5,1824.0 L1785.5,1823.4 L1788.5,1822.8 L1791.5,1822.3 L1794.5,1821.9 L1797.5,1821.5 L1800.5,1821.2 L1803.5,1820.9 L1806.5,1820.7 L1809.5,1820.6 L1812.5,1820.5 L1815.5,1820.5 L1818.5,1820.5 L1821.5,1820.6 L1824.5,1820.7 L1827.5,1820.9 L1830.5,1821.2 L1833.5,1821.5 L1836.5,1822.0 L1839.5,1822.5 L1842.5,1823.1 L1845.5,1823.8 L1848.5,1824.5 L1851.5,1825.4 L1854.5,1826.3 L1857.5,1827.3 L1860.5,1828.4 L1863.5,1829.6 L1866.5,1830.8 L1869.5,1832.1 L1872.5,1833.5 L1875.5,1835.0 L1878.5,1836.5 L1881.5,1838.1 L1884.5,1839.8 L1887.5,1841.6 L1890.5,1843.4 L1893.5,1845.3 L1896.5,1847.3 L1899.5,1849.3 L1902.5,1851.4 L1905.5,1853.6 L1908.5,1855.8 L1911.5,1858.2 L1914.5,1860.5 L1917.5,1863.0 L1920.5,1865.5 L1923.5,1868.0 L1926.5,1870.6 L1929.5,1873.3 L1932.5,1876.0 L1935.5,1878.8 L1938.5,1881.6 L1941.5,1884.5 L1944.5,1887.3 L1947.5,1890.2 L1950.5,1893.1 L1953.5,1896.0 L1956.5,1898.9 L1959.5,1901.8 L1962.5,1904.6 L1965.5,1907.5 L1968.5,1910.3 L1971.5,1913.2 L1974.5,1916.0 L1977.5,1918.9 L1980.5,1921.7 L1983.5,1924.5 L1986.5,1927.3 L1989.5,1930.2 L1992.5,1933.0 L1995.5,1935.9 L1998.5,1938.8 L2001.5,1941.7 L2004.5,1944.7 L2007.5,1947.7 L2010.5,1950.7 L2013.5,1953.8 L2016.5,1956.9 L2019.5,1960.0 L2022.5,1963.1 L2025.5,1966.2 L2028.5,1969.4 L2031.5,1972.5 L2034.5,1975.7 L2037.5,1978.9 L2040.5,1982.0 L2043.5,1985.2 L2046.5,1988.4 L2049.5,1991.6 L2052.5,1994.8 L2055.5,1997.9 L2058.5,2001.1 L2061.5,2004.2 L2064.5,2007.3 L2067.5,2010.4 L2070.5,2013.5 L2073.5,2016.6 L2076.5,2019.6 L2079.5,2022.6 L2082.6,2025.6 L2085.6,2028.5 L2088.6,2031.5 L2091.6,2034.4 L2094.6,2037.3 L2097.6,2040.1 L2100.6,2043.0 L2103.6,2045.8 L2106.6,2048.6 L2109.6,2051.4 L2112.6,2054.2 L2115.6,2056.9 L2118.6,2059.6 L2121.6,2062.4 L2124.6,2065.1 L2127.6,2067.7 L2130.6,2070.4 L2133.6,2073.0 L2136.6,2075.7 L2139.6,2078.3 L2142.6,2080.8 L2145.6,2083.4 L2148.6,2085.9 L2151.6,2088.4 L2154.6,2090.8 L2157.6,2093.2 L2160.6,2095.6 L2163.6,2098.0 L2166.6,2100.3 L2169.6,2102.6 L2172.6,2104.9 L2175.6,2107.2 L2178.6,2109.4 L2181.6,2111.6 L2184.6,2113.7 L2187.6,2115.9 L2190.6,2118.0 L2193.6,2120.1 L2196.6,2122.2 L2199.6,2124.3 L2202.6,2126.4 L2205.6,2128.4 L2208.6,2130.4 L2211.6,2132.4 L2214.6,2134.4 L2217.6,2136.4 L2220.6,2138.4 L2223.6,2140.4 L2226.6,2142.3 L2229.6,2144.3 L2232.6,2146.2 L2235.6,2148.1 L2238.6,2150.0 L2241.6,2152.0 L2244.6,2153.8 L2247.6,2155.7 L2250.6,2157.6 L2253.6,2159.4 L2256.6,2161.3 L2259.6,2163.1 L2262.6,2164.9 L2265.6,2166.7 L2268.6,2168.5 L2271.6,2170.2 L2274.6,2171.9 L2277.6,2173.7 L2280.6,2175.4 L2283.6,2177.1 L2286.6,2178.8 L2289.6,2180.4 L2292.6,2182.1 L2295.6,2183.7 L2298.6,2185.4 L2301.6,2187.0 L2304.6,2188.6 L2307.6,2190.2 L2310.6,2191.8 L2313.6,2193.3 L2316.6,2194.8 L2319.6,2196.2 L2322.6,2197.5 L2325.6,2198.7 L2328.6,2199.7 L2331.6,2200.6" fill="none" stroke="#0000ff" stroke-width="13.8" stroke-linejoin="round" stroke-linecap="butt"/>
<path d="M333.2,2226.1 L336.2,2226.9 L339.2,2228.0 L342.2,2229.2 L345.2,2230.5 L348.2,2232.0 L351.2,2233.6 L354.2,2235.3 L357.2,2237.0 L360.2,2238.8 L363.2,2240.7 L366.2,2242.6 L369.2,2244.5 L372.2,2246.5 L375.2,2248.5 L378.2,2250.6 L381.2,2252.7 L384.2,2254.8 L387.2,2256.9 L390.2,2259.0 L393.2,2261.1 L396.2,2263.2 L399.2,2265.3 L402.2,2267.3 L405.2,2269.4 L408.2,2271.4 L411.2,2273.4 L414.2,2275.4 L417.2,2277.4 L420.2,2279.4 L423.2,2281.4 L426.2,2283.4 L429.2,2285.4 L432.2,2287.5 L435.2,2289.6 L438.2,2291.7 L441.2,2293.9 L444.2,2296.1 L447.2,2298.3 L450.2,2300.6 L453.2,2302.9 L456.2,2305.2 L459.2,2307.6 L462.2,2309.9 L465.2,2312.3 L468.2,2314.7 L471.2,2317.1 L474.2,2319.5 L477.2,2321.9 L480.2,2324.3 L483.2,2326.7 L486.2,2329.1 L489.2,2331.5 L492.2,2333.9 L495.2,2336.4 L498.2,2338.9 L501.2,2341.4 L504.2,2343.9 L507.2,2346.5 L510.2,2349.1 L513.2,2351.8 L516.2,2354.4 L519.2,2357.1 L522.2,2359.7 L525.2,2362.4 L528.2,2365.0 L531.2,2367.6 L534.2,2370.2 L537.2,2372.8 L540.2,2375.4 L543.2,2378.0 L546.2,2380.6 L549.2,2383.1 L552.2,2385.7 L555.2,2388.2 L558.2,2390.7 L561.2,2393.3 L564.2,2395.8 L567.2,2398.4 L570.2,2400.9 L573.2,2403.4 L576.2,2406.0 L579.2,2408.6 L582.2,2411.1 L585.3,2413.7 L588.3,2416.2 L591.3,2418.8 L594.3,2421.3 L597.3,2423.9 L600.3,2426.4 L603.3,2429.0 L606.3,2431.6 L609.3,2434.3 L612.3,2437.0 L615.3,2439.9 L618.3,2442.8 L621.3,2445.7 L624.3,2448.8 L627.3,2451.8 L630.3,2454.9 L633.3,2458.0 L636.3,2461.1 L639.3,2464.2 L642.3,2467.2 L645.3,2470.1 L648.3,2473.0 L651.3,2475.9 L654.3,2478.7 L657.3,2481.4 L660.3,2484.2 L663.3,2487.0 L666.3,2489.7 L669.3,2492.5 L672.3,2495.3 L675.3,2498.0 L678.3,2500.8 L681.3,2503.5 L684.3,2506.1 L687.3,2508.7 L690.3,2511.3 L693.3,2513.8 L696.3,2516.3 L699.3,2518.7 L702.3,2521.0 L705.3,2523.3 L708.3,2525.6 L711.3,2527.7 L714.3,2529.9 L717.3,2531.9 L720.3,2533.9 L723.3,2535.9 L726.3,2537.7 L729.3,2539.6 L732.3,2541.3 L735.3,2543.0 L738.3,2544.7 L741.3,2546.3 L744.3,2547.8 L747.3,2549.3 L750.3,2550.8 L753.3,2552.2 L756.3,2553.7 L759.3,2555.0 L762.3,2556.4 L765.3,2557.7 L768.3,2559.0 L771.3,2560.3 L774.3,2561.5 L777.3,2562.7 L780.3,2563.9 L783.3,2565.0 L786.3,2566.0 L789.3,2566.9 L792.3,2567.7 L795.3,2568.4 L798.3,2569.1 L801.3,2569.6 L804.3,2570.0 L807.3,2570.4 L810.3,2570.6 L813.3,2570.8 L816.3,2570.9 L819.3,2570.9 L822.3,2570.9 L825.3,2570.8 L828.3,2570.7 L831.3,2570.5 L834.3,2570.2 L837.3,2569.8 L840.3,2569.4 L843.3,2568.9 L846.3,2568.3 L849.3,2567.6 L852.3,2566.8 L855.3,2566.0 L858.3,2565.0 L861.3,2564.1 L864.3,2563.2 L867.3,2562.2 L870.3,2561.1 L873.3,2560.1 L876.3,2558.9 L879.3,2557.8 L882.3,2556.6 L885.3,2555.4 L888.3,2554.2 L891.3,2553.0 L894.3,2551.8 L897.3,2550.5 L900.3,2549.2 L903.3,2547.9 L906.3,2546.5 L909.3,2545.0 L912.3,2543.5 L915.3,2541.8 L918.3,2540.0 L921.3,2538.2 L924.3,2536.2 L927.3,2534.1 L930.3,2531.9 L933.3,2529.8 L936.3,2527.6 L939.3,2525.4 L942.3,2523.2 L945.3,2521.1 L948.3,2519.1 L951.3,2517.0 L954.3,2515.0 L957.3,2512.9 L960.3,2510.7 L963.3,2508.5 L966.3,2506.3 L969.3,2503.9 L972.3,2501.5 L975.3,2498.9 L978.3,2496.1 L981.3,2493.3 L984.3,2490.4 L987.3,2487.5 L990.3,2484.5 L993.3,2481.5 L996.3,2478.4 L999.3,2475.3 L1002.3,2472.2 L1005.3,2469.0 L1008.3,2465.8 L1011.3,2462.5 L1014.3,2459.2 L1017.3,2455.9 L1020.3,2452.6 L1023.3,2449.2 L1026.3,2445.9 L1029.3,2442.5 L1032.3,2439.1 L1035.3,2435.8 L1038.3,2432.4 L1041.3,2429.1 L1044.3,2425.8 L1047.3,2422.5 L1050.3,2419.2 L1053.3,2416.0 L1056.3,2412.8 L1059.3,2409.6 L1062.3,2406.5 L1065.3,2403.4 L1068.3,2400.3 L1071.3,2397.2 L1074.3,2394.2 L1077.3,2391.1 L1080.3,2388.1 L1083.4,2385.1 L1086.4,2382.0 L1089.4,2379.0 L1092.4,2375.9 L1095.4,2372.9 L1098.4,2369.8 L1101.4,2366.8 L1104.4,2363.8 L1107.4,2360.7 L1110.4,2357.7 L1113.4,2354.7 L1116.4,2351.8 L1119.4,2348.8 L1122.4,2345.9 L1125.4,2343.1 L1128.4,2340.2 L1131.4,2337.4 L1134.4,2334.6 L1137.4,2331.8 L1140.4,2329.1 L1143.4,2326.3 L1146.4,2323.5 L1149.4,2320.7 L1152.4,2318.0 L1155.4,2315.2 L1158.4,2312.5 L1161.4,2309.8 L1164.4,2307.1 L1167.4,2304.4 L1170.4,2301.8 L1173.4,2299.2 L1176.4,2296.7 L1179.4,2294.2 L1182.4,2291.7 L1185.4,2289.3 L1188.4,2287.0 L1191.4,2284.6 L1194.4,2282.3 L1197.4,2280.0 L1200.4,2277.8 L1203.4,2275.6 L1206.4,2273.4 L1209.4,2271.2 L1212.4,2269.0 L1215.4,2266.8 L1218.4,2264.6 L1221.4,2262.5 L1224.4,2260.3 L1227.4,2258.1 L1230.4,2256.0 L1233.4,2253.9 L1236.4,2251.8 L1239.4,2249.7 L1242.4,2247.6 L1245.4,2245.6 L1248.4,2243.6 L1251.4,2241.7 L1254.4,2239.8 L1257.4,2238.0 L1260.4,2236.2 L1263.4,2234.4 L1266.4,2232.7 L1269.4,2230.9 L1272.4,2229.2 L1275.4,2227.5 L1278.4,2225.8 L1281.4,2224.0 L1284.4,2222.3 L1287.4,2220.5 L1290.4,2218.8 L1293.4,2217.0 L1296.4,2215.2 L1299.4,2213.5 L1302.4,2211.7 L1305.4,2210.0 L1308.4,2208.3 L1311.4,2206.5 L1314.4,2204.8 L1317.4,2203.1 L1320.4,2201.5 L1323.4,2199.8 L1326.4,2198.1 L1329.4,2196.5 L1332.4,2194.9 L1335.4,2193.2 L1338.4,2191.6 L1341.4,2189.9 L1344.4,2188.2 L1347.4,2186.6 L1350.4,2184.9 L1353.4,2183.1 L1356.4,2181.4 L1359.4,2179.7 L1362.4,2177.9 L1365.4,2176.1 L1368.4,2174.3 L1371.4,2172.5 L1374.4,2170.7 L1377.4,2168.9 L1380.4,2167.1 L1383.4,2165.3 L1386.4,2163.6 L1389.4,2161.8 L1392.4,2160.1 L1395.4,2158.4 L1398.4,2156.8 L1401.4,2155.1 L1404.4,2153.5 L1407.4,2151.8 L1410.4,2150.1 L1413.4,2148.4 L1416.4,2146.6 L1419.4,2144.7 L1422.4,2142.8 L1425.4,2140.7 L1428.4,2138.5 L1431.4,2136.2 L1434.4,2133.8 L1437.4,2131.3 L1440.4,2128.8 L1443.4,2126.1 L1446.4,2123.4 L1449.4,2120.7 L1452.4,2117.9 L1455.4,2115.1 L1458.4,2112.2 L1461.4,2109.4 L1464.4,2106.5 L1467.4,2103.6 L1470.4,2100.7 L1473.4,2097.9 L1476.4,2095.0 L1479.4,2092.1 L1482.4,2089.2 L1485.4,2086.2 L1488.4,2083.3 L1491.4,2080.4 L1494.4,2077.4 L1497.4,2074.5 L1500.4,2071.5 L1503.4,2068.5 L1506.4,2065.5 L1509.4,2062.5 L1512.4,2059.5 L1515.4,2056.5 L1518.4,2053.5 L1521.4,2050.5 L1524.4,2047.5 L1527.4,2044.6 L1530.4,2041.6 L1533.4,2038.7 L1536.4,2035.7 L1539.4,2032.8 L1542.4,2029.9 L1545.4,2027.1 L1548.4,2024.2 L1551.4,2021.4 L1554.4,2018.5 L1557.4,2015.7 L1560.4,2012.9 L1563.4,2010.1 L1566.4,2007.3 L1569.4,2004.4 L1572.4,2001.6 L1575.4,1998.8 L1578.4,1996.0 L1581.4,1993.2 L1584.5,1990.4 L1587.5,1987.6 L1590.5,1984.9 L1593.5,1982.1 L1596.5,1979.3 L1599.5,1976.6 L1602.5,1973.8 L1605.5,1971.1 L1608.5,1968.4 L1611.5,1965.6 L1614.5,1962.9 L1617.5,1960.3 L1620.5,1957.6 L1623.5,1954.9 L1626.5,1952.3 L1629.5,1949.7 L1632.5,1947.1 L1635.5,1944.5 L1638.5,1941.9 L1641.5,1939.4 L1644.5,1936.9 L1647.5,1934.4 L1650.5,1931.9 L1653.5,1929.5 L1656.5,1927.0 L1659.5,1924.6 L1662.5,1922.2 L1665.5,1919.8 L1668.5,1917.4 L1671.5,1915.1 L1674.5,1912.8 L1677.5,1910.5 L1680.5,1908.2 L1683.5,1905.9 L1686.5,1903.7 L1689.5,1901.5 L1692.5,1899.3 L1695.5,1897.2 L1698.5,1895.1 L1701.5,1893.0 L1704.5,1891.0 L1707.5,1889.0 L1710.5,1887.0 L1713.5,1885.0 L1716.5,1883.0 L1719.5,1881.1 L1722.5,1879.2 L1725.5,1877.4 L1728.5,1875.6 L1731.5,1873.8 L1734.5,1872.1 L1737.5,1870.4 L1740.5,1868.8 L1743.5,1867.3 L1746.5,1865.8 L1749.5,1864.4 L1752.5,1863.1 L1755.5,1861.9 L1758.5,1860.7 L1761.5,1859.6 L1764.5,1858.5 L1767.5,1857.5 L1770.5,1856.6 L1773.5,1855.7 L1776.5,1854.9 L1779.5,1854.1 L1782.5,1853.4 L1785.5,1852.8 L1788.5,1852.2 L1791.5,1851.7 L1794.5,1851.2 L1797.5,1850.9 L1800.5,1850.5 L1803.5,1850.3 L1806.5,1850.1 L1809.5,1849.9 L1812.5,1849.9 L1815.5,1849.9 L1818.5,1849.9 L1821.5,1850.0 L1824.5,1850.2 L1827.5,1850.5 L1830.5,1850.8 L1833.5,1851.2 L1836.5,1851.6 L1839.5,1852.2 L1842.5,1852.8 L1845.5,1853.5 L1848.5,1854.3 L1851.5,1855.2 L1854.5,1856.1 L1857.5,1857.1 L1860.5,1858.2 L1863.5,1859.4 L1866.5,1860.6 L1869.5,1861.9 L1872.5,1863.2 L1875.5,1864.6 L1878.5,1866.1 L1881.5,1867.7 L1884.5,1869.3 L1887.5,1871.0 L1890.5,1872.7 L1893.5,1874.6 L1896.5,1876.5 L1899.5,1878.4 L1902.5,1880.5 L1905.5,1882.6 L1908.5,1884.8 L1911.5,1887.0 L1914.5,1889.3 L1917.5,1891.7 L1920.5,1894.2 L1923.5,1896.7 L1926.5,1899.2 L1929.5,1901.8 L1932.5,1904.4 L1935.5,1907.1 L1938.5,1909.7 L1941.5,1912.4 L1944.5,1915.1 L1947.5,1917.8 L1950.5,1920.5 L1953.5,1923.2 L1956.5,1925.9 L1959.5,1928.6 L1962.5,1931.3 L1965.5,1933.9 L1968.5,1936.5 L1971.5,1939.1 L1974.5,1941.7 L1977.5,1944.2 L1980.5,1946.7 L1983.5,1949.2 L1986.5,1951.8 L1989.5,1954.3 L1992.5,1956.9 L1995.5,1959.5 L1998.5,1962.1 L2001.5,1964.8 L2004.5,1967.5 L2007.5,1970.3 L2010.5,1973.2 L2013.5,1976.1 L2016.5,1979.0 L2019.5,1981.9 L2022.5,1984.9 L2025.5,1987.9 L2028.5,1990.8 L2031.5,1993.8 L2034.5,1996.8 L2037.5,1999.8 L2040.5,2002.8 L2043.5,2005.8 L2046.5,2008.8 L2049.5,2011.8 L2052.5,2014.9 L2055.5,2017.9 L2058.5,2020.9 L2061.5,2023.9 L2064.5,2026.9 L2067.5,2029.9 L2070.5,2032.9 L2073.5,2035.9 L2076.5,2038.9 L2079.5,2041.8 L2082.6,2044.8 L2085.6,2047.7 L2088.6,2050.5 L2091.6,2053.4 L2094.6,2056.2 L2097.6,2059.0 L2100.6,2061.7 L2103.6,2064.5 L2106.6,2067.2 L2109.6,2069.9 L2112.6,2072.6 L2115.6,2075.3 L2118.6,2078.0 L2121.6,2080.7 L2124.6,2083.4 L2127.6,2086.1 L2130.6,2088.8 L2133.6,2091.5 L2136.6,2094.2 L2139.6,2096.9 L2142.6,2099.6 L2145.6,2102.3 L2148.6,2105.0 L2151.6,2107.7 L2154.6,2110.3 L2157.6,2113.0 L2160.6,2115.6 L2163.6,2118.2 L2166.6,2120.8 L2169.6,2123.4 L2172.6,2126.0 L2175.6,2128.5 L2178.6,2131.1 L2181.6,2133.6 L2184.6,2136.0 L2187.6,2138.5 L2190.6,2140.9 L2193.6,2143.3 L2196.6,2145.7 L2199.6,2148.1 L2202.6,2150.4 L2205.6,2152.7 L2208.6,2155.0 L2211.6,2157.3 L2214.6,2159.5 L2217.6,2161.7 L2220.6,2163.9 L2223.6,2166.0 L2226.6,2168.2 L2229.6,2170.3 L2232.6,2172.3 L2235.6,2174.4 L2238.6,2176.4 L2241.6,2178.3 L2244.6,2180.3 L2247.6,2182.2 L2250.6,2184.1 L2253.6,2186.0 L2256.6,2187.8 L2259.6,2189.6 L2262.6,2191.4 L2265.6,2193.1 L2268.6,2194.8 L2271.6,2196.4 L2274.6,2198.0 L2277.6,2199.4 L2280.6,2200.9 L2283.6,2202.3 L2286.6,2203.6 L2289.6,2204.9 L2292.6,2206.1 L2295.6,2207.4 L2298.6,2208.5 L2301.6,2209.7 L2304.6,2210.8 L2307.6,2211.9 L2310.6,2213.0 L2313.6,2214.0 L2316.6,2215.0 L2319.6,2215.9 L2322.6,2216.8 L2325.6,2217.5 L2328.6,2218.2 L2331.6,2218.8" fill="none" stroke="#ff0000" stroke-width="13.8" stroke-linejoin="round" stroke-linecap="butt"/>
<path d="M333.2,2204.3 L336.2,2205.5 L339.2,2206.6 L342.2,2207.7 L345.2,2208.8 L348.2,2210.0 L351.2,2211.1 L354.2,2212.2 L357.2,2213.4 L360.2,2214.5 L363.2,2215.7 L366.2,2216.9 L369.2,2218.1 L372.2,2219.3 L375.2,2220.5 L378.2,2221.7 L381.2,2223.0 L384.2,2224.2 L387.2,2225.4 L390.2,2226.6 L393.2,2227.8 L396.2,2228.9 L399.2,2230.0 L402.2,2231.2 L405.2,2232.4 L408.2,2233.6 L411.2,2234.7 L414.2,2235.7 L417.2,2236.5 L420.2,2237.2 L423.2,2237.7 L426.2,2238.1 L429.2,2238.3 L432.2,2238.6 L435.2,2239.0 L438.2,2239.4 L441.2,2240.2 L444.2,2241.3 L447.2,2242.7 L450.2,2244.2 L453.2,2245.8 L456.2,2247.7 L459.2,2249.9 L462.2,2252.1 L465.2,2254.0 L468.2,2255.6 L471.2,2256.9 L474.2,2258.1 L477.2,2259.2 L480.2,2260.2 L483.2,2261.3 L486.2,2262.5 L489.2,2263.8 L492.2,2265.2 L495.2,2266.7 L498.2,2268.2 L501.2,2269.8 L504.2,2271.5 L507.2,2273.2 L510.2,2275.0 L513.2,2276.8 L516.2,2278.7 L519.2,2280.7 L522.2,2282.8 L525.2,2284.9 L528.2,2287.1 L531.2,2289.3 L534.2,2291.6 L537.2,2293.8 L540.2,2296.1 L543.2,2298.5 L546.2,2300.8 L549.2,2303.3 L552.2,2305.7 L555.2,2308.2 L558.2,2310.7 L561.2,2313.3 L564.2,2316.0 L567.2,2318.7 L570.2,2321.4 L573.2,2324.2 L576.2,2326.9 L579.2,2329.7 L582.2,2332.4 L585.3,2335.1 L588.3,2337.8 L591.3,2340.5 L594.3,2343.2 L597.3,2345.9 L600.3,2348.6 L603.3,2351.3 L606.3,2354.0 L609.3,2356.9 L612.3,2359.7 L615.3,2362.3 L618.3,2364.6 L621.3,2366.2 L624.3,2367.4 L627.3,2368.4 L630.3,2369.6 L633.3,2371.0 L636.3,2372.6 L639.3,2374.4 L642.3,2376.6 L645.3,2379.6 L648.3,2383.7 L651.3,2388.4 L654.3,2392.8 L657.3,2396.3 L660.3,2398.5 L663.3,2400.1 L666.3,2401.4 L669.3,2402.6 L672.3,2403.7 L675.3,2404.9 L678.3,2406.4 L681.3,2407.9 L684.3,2409.5 L687.3,2411.1 L690.3,2412.8 L693.3,2414.6 L696.3,2416.4 L699.3,2418.4 L702.3,2420.4 L705.3,2422.5 L708.3,2424.7 L711.3,2426.9 L714.3,2429.1 L717.3,2431.3 L720.3,2433.6 L723.3,2435.8 L726.3,2438.1 L729.3,2440.4 L732.3,2442.6 L735.3,2444.9 L738.3,2447.1 L741.3,2449.3 L744.3,2451.6 L747.3,2453.8 L750.3,2456.0 L753.3,2458.2 L756.3,2460.3 L759.3,2462.5 L762.3,2464.7 L765.3,2466.8 L768.3,2468.9 L771.3,2471.0 L774.3,2473.1 L777.3,2475.0 L780.3,2477.0 L783.3,2478.9 L786.3,2480.9 L789.3,2482.7 L792.3,2484.6 L795.3,2486.3 L798.3,2487.9 L801.3,2489.4 L804.3,2490.8 L807.3,2492.2 L810.3,2493.6 L813.3,2494.9 L816.3,2496.1 L819.3,2497.1 L822.3,2497.9 L825.3,2498.6 L828.3,2499.2 L831.3,2499.8 L834.3,2500.3 L837.3,2500.7 L840.3,2500.9 L843.3,2500.9 L846.3,2500.7 L849.3,2500.3 L852.3,2499.8 L855.3,2499.2 L858.3,2498.6 L861.3,2497.9 L864.3,2496.9 L867.3,2495.7 L870.3,2494.2 L873.3,2492.7 L876.3,2491.0 L879.3,2489.4 L882.3,2487.6 L885.3,2485.7 L888.3,2483.6 L891.3,2481.5 L894.3,2479.3 L897.3,2477.1 L900.3,2474.9 L903.3,2472.7 L906.3,2470.4 L909.3,2468.1 L912.3,2465.7 L915.3,2463.2 L918.3,2460.7 L921.3,2458.1 L924.3,2455.3 L927.3,2452.4 L930.3,2449.4 L933.3,2446.5 L936.3,2443.5 L939.3,2440.7 L942.3,2437.9 L945.3,2435.2 L948.3,2432.4 L951.3,2429.7 L954.3,2427.0 L957.3,2424.4 L960.3,2421.8 L963.3,2419.1 L966.3,2416.5 L969.3,2413.8 L972.3,2411.2 L975.3,2408.6 L978.3,2406.1 L981.3,2403.7 L984.3,2401.5 L987.3,2399.6 L990.3,2398.0 L993.3,2396.5 L996.3,2395.0 L999.3,2393.4 L1002.3,2391.6 L1005.3,2389.4 L1008.3,2386.7 L1011.3,2382.5 L1014.3,2377.4 L1017.3,2372.4 L1020.3,2368.1 L1023.3,2363.7 L1026.3,2360.1 L1029.3,2358.2 L1032.3,2357.1 L1035.3,2356.2 L1038.3,2355.4 L1041.3,2354.7 L1044.3,2354.1 L1047.3,2353.4 L1050.3,2352.2 L1053.3,2350.3 L1056.3,2347.9 L1059.3,2345.3 L1062.3,2342.8 L1065.3,2340.3 L1068.3,2337.6 L1071.3,2334.8 L1074.3,2331.9 L1077.3,2329.0 L1080.3,2326.1 L1083.4,2323.2 L1086.4,2320.3 L1089.4,2317.2 L1092.4,2314.2 L1095.4,2311.2 L1098.4,2308.1 L1101.4,2305.1 L1104.4,2302.1 L1107.4,2299.0 L1110.4,2296.0 L1113.4,2293.0 L1116.4,2290.1 L1119.4,2287.3 L1122.4,2284.5 L1125.4,2281.7 L1128.4,2279.0 L1131.4,2276.4 L1134.4,2273.8 L1137.4,2271.3 L1140.4,2268.8 L1143.4,2266.3 L1146.4,2263.9 L1149.4,2261.5 L1152.4,2259.3 L1155.4,2257.1 L1158.4,2254.9 L1161.4,2252.9 L1164.4,2250.8 L1167.4,2248.9 L1170.4,2246.9 L1173.4,2245.1 L1176.4,2243.3 L1179.4,2241.5 L1182.4,2239.8 L1185.4,2238.1 L1188.4,2236.5 L1191.4,2234.8 L1194.4,2233.1 L1197.4,2231.4 L1200.4,2229.7 L1203.4,2228.0 L1206.4,2226.4 L1209.4,2224.9 L1212.4,2223.4 L1215.4,2222.0 L1218.4,2220.8 L1221.4,2219.6 L1224.4,2218.4 L1227.4,2217.3 L1230.4,2216.2 L1233.4,2215.0 L1236.4,2213.7 L1239.4,2212.4 L1242.4,2211.1 L1245.4,2209.7 L1248.4,2208.3 L1251.4,2206.9 L1254.4,2205.5 L1257.4,2204.1 L1260.4,2202.7 L1263.4,2201.3 L1266.4,2199.9 L1269.4,2198.5 L1272.4,2197.1 L1275.4,2195.7 L1278.4,2194.3 L1281.4,2193.0 L1284.4,2191.7 L1287.4,2190.5 L1290.4,2189.3 L1293.4,2188.2 L1296.4,2187.0 L1299.4,2185.8 L1302.4,2184.6 L1305.4,2183.4 L1308.4,2182.1 L1311.4,2180.8 L1314.4,2179.5 L1317.4,2178.1 L1320.4,2176.8 L1323.4,2175.5 L1326.4,2174.1 L1329.4,2172.8 L1332.4,2171.5 L1335.4,2170.1 L1338.4,2168.8 L1341.4,2167.5 L1344.4,2166.1 L1347.4,2164.8 L1350.4,2163.6 L1353.4,2162.3 L1356.4,2161.1 L1359.4,2160.0 L1362.4,2158.8 L1365.4,2157.6 L1368.4,2156.4 L1371.4,2155.2 L1374.4,2153.9 L1377.4,2152.6 L1380.4,2151.3 L1383.4,2150.0 L1386.4,2148.7 L1389.4,2147.3 L1392.4,2145.8 L1395.4,2144.3 L1398.4,2142.7 L1401.4,2140.9 L1404.4,2138.9 L1407.4,2136.9 L1410.4,2134.8 L1413.4,2132.9 L1416.4,2131.0 L1419.4,2129.3 L1422.4,2127.8 L1425.4,2126.5 L1428.4,2125.4 L1431.4,2124.4 L1434.4,2123.4 L1437.4,2122.5 L1440.4,2121.6 L1443.4,2120.6 L1446.4,2119.6 L1449.4,2118.5 L1452.4,2117.5 L1455.4,2116.4 L1458.4,2115.3 L1461.4,2114.2 L1464.4,2113.1 L1467.4,2112.0 L1470.4,2110.9 L1473.4,2109.7 L1476.4,2108.6 L1479.4,2107.4 L1482.4,2106.2 L1485.4,2105.0 L1488.4,2103.8 L1491.4,2102.4 L1494.4,2101.1 L1497.4,2099.7 L1500.4,2098.2 L1503.4,2096.7 L1506.4,2095.2 L1509.4,2093.6 L1512.4,2092.0 L1515.4,2090.4 L1518.4,2088.7 L1521.4,2087.0 L1524.4,2085.2 L1527.4,2083.4 L1530.4,2081.6 L1533.4,2079.7 L1536.4,2077.8 L1539.4,2075.8 L1542.4,2073.9 L1545.4,2071.9 L1548.4,2069.9 L1551.4,2067.8 L1554.4,2065.6 L1557.4,2063.4 L1560.4,2061.0 L1563.4,2058.4 L1566.4,2055.7 L1569.4,2052.8 L1572.4,2049.8 L1575.4,2046.8 L1578.4,2043.8 L1581.4,2040.8 L1584.5,2037.9 L1587.5,2035.1 L1590.5,2032.2 L1593.5,2029.4 L1596.5,2026.5 L1599.5,2023.7 L1602.5,2020.9 L1605.5,2018.2 L1608.5,2015.4 L1611.5,2012.4 L1614.5,2009.5 L1617.5,2006.7 L1620.5,2004.2 L1623.5,2002.2 L1626.5,2000.7 L1629.5,1999.6 L1632.5,1998.6 L1635.5,1997.3 L1638.5,1995.5 L1641.5,1993.3 L1644.5,1990.6 L1647.5,1987.0 L1650.5,1982.2 L1653.5,1977.4 L1656.5,1974.1 L1659.5,1972.1 L1662.5,1970.5 L1665.5,1969.2 L1668.5,1967.9 L1671.5,1966.6 L1674.5,1965.2 L1677.5,1963.5 L1680.5,1961.8 L1683.5,1960.1 L1686.5,1958.3 L1689.5,1956.4 L1692.5,1954.6 L1695.5,1952.7 L1698.5,1950.7 L1701.5,1948.7 L1704.5,1946.7 L1707.5,1944.6 L1710.5,1942.5 L1713.5,1940.3 L1716.5,1938.2 L1719.5,1936.0 L1722.5,1933.8 L1725.5,1931.6 L1728.5,1929.4 L1731.5,1927.2 L1734.5,1924.9 L1737.5,1922.7 L1740.5,1920.5 L1743.5,1918.3 L1746.5,1916.1 L1749.5,1913.8 L1752.5,1911.6 L1755.5,1909.5 L1758.5,1907.3 L1761.5,1905.2 L1764.5,1903.1 L1767.5,1901.0 L1770.5,1899.0 L1773.5,1897.0 L1776.5,1895.0 L1779.5,1893.1 L1782.5,1891.2 L1785.5,1889.3 L1788.5,1887.6 L1791.5,1885.9 L1794.5,1884.3 L1797.5,1882.6 L1800.5,1881.1 L1803.5,1879.6 L1806.5,1878.2 L1809.5,1876.8 L1812.5,1875.6 L1815.5,1874.5 L1818.5,1873.3 L1821.5,1872.3 L1824.5,1871.3 L1827.5,1870.5 L1830.5,1869.9 L1833.5,1869.3 L1836.5,1868.8 L1839.5,1868.3 L1842.5,1868.1 L1845.5,1868.1 L1848.5,1868.3 L1851.5,1868.8 L1854.5,1869.3 L1857.5,1869.9 L1860.5,1870.6 L1863.5,1871.7 L1866.5,1873.1 L1869.5,1874.6 L1872.5,1876.2 L1875.5,1877.9 L1878.5,1879.6 L1881.5,1881.5 L1884.5,1883.6 L1887.5,1885.8 L1890.5,1888.0 L1893.5,1890.4 L1896.5,1892.7 L1899.5,1895.3 L1902.5,1897.9 L1905.5,1900.6 L1908.5,1903.3 L1911.5,1906.0 L1914.5,1908.7 L1917.5,1911.5 L1920.5,1914.2 L1923.5,1917.0 L1926.5,1919.8 L1929.5,1922.6 L1932.5,1925.5 L1935.5,1928.4 L1938.5,1931.3 L1941.5,1934.3 L1944.5,1937.1 L1947.5,1939.9 L1950.5,1942.4 L1953.5,1944.8 L1956.5,1947.1 L1959.5,1949.2 L1962.5,1951.4 L1965.5,1953.5 L1968.5,1955.7 L1971.5,1957.8 L1974.5,1960.0 L1977.5,1962.2 L1980.5,1964.3 L1983.5,1966.4 L1986.5,1968.5 L1989.5,1970.7 L1992.5,1972.9 L1995.5,1975.2 L1998.5,1977.6 L2001.5,1980.2 L2004.5,1983.0 L2007.5,1985.9 L2010.5,1989.0 L2013.5,1992.1 L2016.5,1995.1 L2019.5,1998.0 L2022.5,2000.7 L2025.5,2003.2 L2028.5,2005.7 L2031.5,2008.2 L2034.5,2010.5 L2037.5,2012.9 L2040.5,2015.1 L2043.5,2017.4 L2046.5,2019.6 L2049.5,2021.7 L2052.5,2023.8 L2055.5,2025.8 L2058.5,2027.9 L2061.5,2029.9 L2064.5,2032.0 L2067.5,2034.3 L2070.5,2036.6 L2073.5,2038.9 L2076.5,2041.3 L2079.5,2043.8 L2082.6,2046.2 L2085.6,2048.7 L2088.6,2051.1 L2091.6,2053.5 L2094.6,2055.9 L2097.6,2058.3 L2100.6,2060.7 L2103.6,2063.1 L2106.6,2065.5 L2109.6,2067.9 L2112.6,2070.3 L2115.6,2072.7 L2118.6,2075.1 L2121.6,2077.5 L2124.6,2080.0 L2127.6,2082.4 L2130.6,2084.8 L2133.6,2087.1 L2136.6,2089.5 L2139.6,2091.8 L2142.6,2094.1 L2145.6,2096.4 L2148.6,2098.7 L2151.6,2100.9 L2154.6,2103.2 L2157.6,2105.4 L2160.6,2107.7 L2163.6,2110.0 L2166.6,2112.2 L2169.6,2114.5 L2172.6,2116.7 L2175.6,2118.9 L2178.6,2121.1 L2181.6,2123.2 L2184.6,2125.3 L2187.6,2127.3 L2190.6,2129.3 L2193.6,2131.3 L2196.6,2133.3 L2199.6,2135.2 L2202.6,2137.1 L2205.6,2139.0 L2208.6,2140.8 L2211.6,2142.7 L2214.6,2144.5 L2217.6,2146.3 L2220.6,2148.1 L2223.6,2149.8 L2226.6,2151.6 L2229.6,2153.3 L2232.6,2154.9 L2235.6,2156.6 L2238.6,2158.2 L2241.6,2159.8 L2244.6,2161.4 L2247.6,2163.0 L2250.6,2164.5 L2253.6,2166.1 L2256.6,2167.6 L2259.6,2169.1 L2262.6,2170.7 L2265.6,2172.2 L2268.6,2173.6 L2271.6,2175.1 L2274.6,2176.5 L2277.6,2177.8 L2280.6,2179.2 L2283.6,2180.5 L2286.6,2181.8 L2289.6,2183.1 L2292.6,2184.4 L2295.6,2185.7 L2298.6,2186.9 L2301.6,2188.2 L2304.6,2189.5 L2307.6,2190.7 L2310.6,2192.0 L2313.6,2193.2 L2316.6,2194.5 L2319.6,2195.7 L2322.6,2197.0 L2325.6,2198.3 L2328.6,2199.5 L2331.6,2200.8" fill="none" stroke="#00ff00" stroke-width="13.8" stroke-linejoin="round" stroke-linecap="butt"/>
<path d="M333.7,2225.9 L340.6,2235.0 L347.5,2228.1 L354.3,2241.9 L365.8,2230.4 L372.6,2239.6 L377.2,2262.5 L386.4,2246.5 L393.2,2262.5 L402.4,2251.0 L416.1,2262.5 L425.3,2278.5 L439.0,2283.1 L452.7,2280.8 L466.5,2299.1 L480.2,2296.8 L491.6,2312.8 L500.8,2308.2 L516.8,2328.8 L530.5,2335.7 L539.7,2338.0 L548.8,2354.0 L562.6,2358.6 L574.0,2347.1 L583.2,2370.0 L599.2,2392.9 L612.9,2392.9 L626.6,2420.4 L640.4,2427.2 L649.5,2441.0 L658.7,2443.2 L667.8,2470.7 L681.6,2463.8 L693.0,2486.7 L704.4,2495.9 L718.2,2491.3 L727.3,2507.3 L743.3,2514.2 L752.5,2534.8 L761.6,2518.8 L775.4,2553.1 L789.1,2532.5 L800.5,2555.4 L812.0,2562.2 L828.0,2548.5 L839.5,2550.8 L850.9,2560.0 L862.3,2548.5 L873.8,2532.5 L887.5,2532.5 L901.2,2523.3 L920.0,2518.8 L929.5,2504.0 L943.2,2510.0 L952.4,2485.7 L963.8,2489.4 L975.3,2464.2 L989.0,2461.9 L1000.4,2443.6 L1007.3,2448.2 L1016.5,2427.6 L1025.6,2436.7 L1032.5,2407.0 L1041.6,2402.4 L1046.2,2391.0 L1053.1,2393.2 L1057.6,2381.8 L1064.5,2374.9 L1071.4,2358.9 L1082.8,2368.1 L1092.0,2372.7 L1098.8,2352.1 L1105.7,2331.5 L1119.4,2324.6 L1130.9,2331.5 L1144.6,2315.4 L1160.6,2288.9 L1178.9,2290.3 L1185.8,2278.8 L1192.7,2276.5 L1201.8,2260.5 L1220.1,2260.5 L1231.6,2244.5 L1238.4,2235.4 L1249.9,2223.9 L1259.0,2230.8 L1272.7,2226.2 L1284.2,2210.2 L1291.1,2217.0 L1300.2,2205.6 L1309.4,2207.9 L1318.5,2196.5 L1327.7,2191.9 L1341.4,2175.9 L1350.5,2180.4 L1362.0,2182.7 L1371.1,2171.3 L1380.3,2157.6 L1396.3,2166.7 L1400.0,2161.9 L1409.2,2150.5 L1418.3,2141.3 L1429.7,2134.4 L1441.2,2136.7 L1452.6,2120.7 L1466.4,2113.8 L1475.5,2118.4 L1489.2,2100.1 L1498.4,2104.7 L1509.8,2079.5 L1521.3,2068.1 L1530.4,2063.5 L1537.3,2072.7 L1546.5,2068.1 L1557.9,2047.5 L1567.0,2040.6 L1576.2,2052.1 L1585.4,2042.9 L1596.8,2015.4 L1605.9,2001.7 L1619.7,2006.3 L1628.8,1983.4 L1640.3,1962.8 L1649.4,1969.7 L1656.3,1946.8 L1665.4,1955.9 L1674.6,1942.2 L1686.0,1933.1 L1702.1,1923.9 L1720.4,1921.6 L1729.5,1907.9 L1743.2,1896.5 L1754.7,1898.7 L1761.6,1887.3 L1768.4,1873.6 L1775.3,1887.3 L1789.0,1878.1 L1798.2,1869.0 L1811.9,1864.4 L1818.8,1859.8 L1834.8,1869.0 L1848.5,1862.1 L1857.7,1873.6 L1871.4,1871.3 L1892.0,1880.4 L1903.4,1898.7 L1919.5,1896.5 L1930.9,1914.8 L1940.0,1926.2 L1946.9,1939.9 L1956.1,1942.2 L1965.2,1953.7 L1981.2,1958.2 L1988.1,1969.7 L2000.0,1978.8 L2009.7,1988.0 L2016.5,1999.4 L2025.7,2015.4 L2039.4,2010.9 L2048.6,2033.8 L2057.7,2038.3 L2066.9,2036.0 L2073.7,2049.8 L2080.6,2052.1 L2089.8,2065.8 L2098.9,2079.5 L2108.1,2091.0 L2117.2,2093.2 L2126.4,2100.1 L2140.1,2109.3 L2151.5,2123.0 L2165.3,2120.7 L2172.1,2132.2 L2181.3,2129.9 L2195.0,2150.5 L2208.7,2148.2 L2214.7,2177.9 L2224.8,2152.7 L2236.2,2173.3 L2247.6,2182.5 L2256.8,2175.6 L2268.2,2200.8 L2282.0,2198.5 L2291.1,2207.7 L2309.4,2207.7 L2323.2,2205.4 L2327.7,2223.7 L2332.3,2221.4" fill="none" stroke="#ff00ff" stroke-width="13.8" stroke-linejoin="round" stroke-linecap="butt"/>
<rect x="1683.2" y="2322.3" width="564.2" height="352.0" fill="#fff" stroke="#262626" stroke-width="3"/>
<path d="M1695.6,2369.9H1819.6" stroke="#0000ff" stroke-width="12.5" fill="none"/>
<text x="1826" y="2389.2" font-family="'Liberation Serif',serif" font-size="74" fill="#000">FEM</text>
<path d="M1695.6,2455.7H1819.6" stroke="#ff0000" stroke-width="12.5" fill="none"/>
<text x="1826" y="2477.5" font-family="'Liberation Serif',serif" font-size="74" fill="#000">Q8−DIC</text>
<path d="M1695.6,2541H1819.6" stroke="#00ff00" stroke-width="12.5" fill="none"/>
<text x="1826" y="2563.8" font-family="'Liberation Serif',serif" font-size="74" fill="#000">Extrapolation</text>
<path d="M1695.6,2626.2H1819.6" stroke="#ff00ff" stroke-width="12.5" fill="none"/>
<text x="1826" y="2646" font-family="'Liberation Serif',serif" font-size="65.2" fill="#000">Half−subset</text>
<text transform="translate(147.70,2416.82) rotate(-90) scale(1.1200,1)" font-family="'Liberation Serif',serif" font-size="132.0" font-style="italic" fill="#000">v</text>
<text transform="translate(145.70,2343.50) rotate(-90) scale(0.9571,1)" font-family="'Liberation Serif',serif" font-size="132" fill="#000">/</text>
<text transform="translate(145.70,2308.03) rotate(-90) scale(1.0009,1)" font-family="'Liberation Serif',serif" font-size="132" fill="#000">pixel</text>
<text transform="translate(1252.83,3007.00) scale(1.1188,1)" font-family="'Liberation Serif',serif" font-size="129.5" font-style="italic" fill="#000">θ</text>
<text transform="translate(1331.00,3007.50) scale(0.9728,1)" font-family="'Liberation Serif',serif" font-size="137.27" fill="#000">/</text>
<text transform="translate(1380.13,2977.28) scale(0.9993,1)" font-family="'Liberation Serif',serif" font-size="99.66996699669907" fill="#000">°</text>
<text transform="translate(1024.16,3117.60) scale(0.9532,1)" font-family="'Liberation Serif',serif" font-size="87" fill="#000">(</text>
<text transform="translate(1053.60,3117.60) scale(1.2356,1)" font-family="'Liberation Serif',serif" font-size="70" font-weight="bold" fill="#000">b</text>
<text transform="translate(1101.91,3117.60) scale(0.9935,1)" font-family="'Liberation Serif',serif" font-size="87" fill="#000">)</text>
<text transform="translate(1148.79,3117.60) scale(1.0516,1)" font-family="'Liberation Serif',serif" font-size="66" font-style="italic" fill="#000">r</text>
<text transform="translate(1192.21,3117.60) scale(1.0322,1)" font-family="'Liberation Serif',serif" font-size="66" fill="#000">=</text>
<text transform="translate(1240.45,3117.60) scale(1.0205,1)" font-family="'Liberation Serif',serif" font-size="68" fill="#000">259</text>
<text transform="translate(1360.62,3117.60) scale(1.0159,1)" font-family="'Liberation Serif',serif" font-size="72" fill="#000">pixels</text>
<g stroke="#262626" stroke-width="3" fill="none" stroke-linecap="square">
<rect x="387.6" y="3241.5" width="1921.1" height="1029.8"/>
</g>
<g stroke="#262626" stroke-width="3" fill="none">
<path d="M387.6,4271.3v-21M387.6,3241.5v21M654.4,4271.3v-21M654.4,3241.5v21M921.2,4271.3v-21M921.2,3241.5v21M1188.1,4271.3v-21M1188.1,3241.5v21M1454.9,4271.3v-21M1454.9,3241.5v21M1721.7,4271.3v-21M1721.7,3241.5v21M1988.5,4271.3v-21M1988.5,3241.5v21M2255.3,4271.3v-21M2255.3,3241.5v21M387.6,3241.5h21M2308.7,3241.5h-21M387.6,3408.0h21M2308.7,3408.0h-21M387.6,3574.5h21M2308.7,3574.5h-21M387.6,3740.9h21M2308.7,3740.9h-21M387.6,3907.4h21M2308.7,3907.4h-21M387.6,4073.9h21M2308.7,4073.9h-21M387.6,4240.4h21M2308.7,4240.4h-21"/>
</g>
<g font-family="'Liberation Serif',serif" font-size="80.5" fill="#262626">
<text x="386.6" y="4368.8" text-anchor="middle">0</text>
<text x="653.4" y="4368.8" text-anchor="middle">50</text>
<text x="920.2" y="4368.8" text-anchor="middle">100</text>
<text x="1187.1" y="4368.8" text-anchor="middle">150</text>
<text x="1453.9" y="4368.8" text-anchor="middle">200</text>
<text x="1720.7" y="4368.8" text-anchor="middle">250</text>
<text x="1987.5" y="4368.8" text-anchor="middle">300</text>
<text x="2254.3" y="4368.8" text-anchor="middle">350</text>
<text x="360.6" y="3269.9" text-anchor="end">0.2</text>
<text x="360.6" y="3436.3" text-anchor="end">0.15</text>
<text x="360.6" y="3602.8" text-anchor="end">0.1</text>
<text x="360.6" y="3769.3" text-anchor="end">0.05</text>
<text x="360.6" y="3935.8" text-anchor="end">0</text>
<text x="360.6" y="4102.3" text-anchor="end">-0.05</text>
<text x="360.6" y="4268.8" text-anchor="end">-0.1</text>
</g>
<path d="M392.9,3944.5 L395.9,3945.7 L398.9,3946.8 L401.9,3947.8 L404.9,3948.6 L407.9,3949.2 L410.9,3949.6 L413.9,3950.0 L416.9,3950.3 L419.9,3950.6 L422.9,3950.9 L425.9,3951.4 L428.9,3952.1 L431.9,3953.0 L434.9,3954.2 L437.9,3955.4 L440.9,3956.8 L443.9,3958.2 L447.0,3959.8 L450.0,3961.7 L453.0,3963.7 L456.0,3966.0 L459.0,3968.4 L462.0,3971.2 L465.0,3974.3 L468.0,3977.7 L471.0,3981.0 L474.0,3984.1 L477.0,3986.9 L480.0,3989.2 L483.0,3991.2 L486.0,3992.9 L489.0,3994.6 L492.0,3996.3 L495.0,3997.9 L498.0,3999.6 L501.0,4001.6 L504.0,4003.7 L507.0,4005.9 L510.0,4008.3 L513.0,4010.7 L516.0,4013.1 L519.0,4015.5 L522.0,4017.9 L525.0,4020.2 L528.0,4022.4 L531.0,4024.7 L534.0,4027.0 L537.0,4029.2 L540.0,4031.4 L543.0,4033.6 L546.0,4035.8 L549.0,4038.0 L552.0,4040.2 L555.1,4042.2 L558.1,4044.1 L561.1,4045.8 L564.1,4047.4 L567.1,4049.0 L570.1,4050.4 L573.1,4051.6 L576.1,4052.6 L579.1,4053.5 L582.1,4054.4 L585.1,4055.1 L588.1,4055.6 L591.1,4055.7 L594.1,4055.7 L597.1,4055.7 L600.1,4055.7 L603.1,4055.7 L606.1,4055.6 L609.1,4055.1 L612.1,4054.1 L615.1,4053.1 L618.1,4052.0 L621.1,4051.0 L624.1,4050.0 L627.1,4048.8 L630.1,4047.4 L633.1,4045.8 L636.1,4043.7 L639.1,4041.3 L642.1,4038.8 L645.1,4036.3 L648.1,4034.0 L651.1,4031.7 L654.1,4029.3 L657.1,4026.7 L660.2,4022.9 L663.2,4020.2 L666.2,4021.3 L669.2,4024.9 L672.2,4028.6 L675.2,4030.7 L678.2,4032.6 L681.2,4034.1 L684.2,4035.1 L687.2,4035.8 L690.2,4036.4 L693.2,4036.8 L696.2,4037.0 L699.2,4036.3 L702.2,4034.9 L705.2,4032.7 L708.2,4029.0 L711.2,4025.1 L714.2,4022.3 L717.2,4020.6 L720.2,4019.3 L723.2,4018.2 L726.2,4017.1 L729.2,4015.8 L732.2,4014.5 L735.2,4013.2 L738.2,4011.8 L741.2,4010.2 L744.2,4008.1 L747.2,4005.4 L750.2,4002.4 L753.2,3999.3 L756.2,3996.2 L759.2,3993.0 L762.2,3989.7 L765.2,3986.3 L768.3,3982.9 L771.3,3979.3 L774.3,3975.8 L777.3,3972.3 L780.3,3968.7 L783.3,3965.1 L786.3,3961.3 L789.3,3957.4 L792.3,3953.1 L795.3,3948.2 L798.3,3942.7 L801.3,3937.0 L804.3,3931.6 L807.3,3927.0 L810.3,3923.4 L813.3,3920.1 L816.3,3917.2 L819.3,3914.4 L822.3,3911.7 L825.3,3909.0 L828.3,3906.6 L831.3,3904.4 L834.3,3902.2 L837.3,3899.6 L840.3,3896.6 L843.3,3892.5 L846.3,3886.1 L849.3,3877.9 L852.3,3869.2 L855.3,3861.3 L858.3,3854.6 L861.3,3848.2 L864.3,3842.3 L867.3,3837.1 L870.3,3832.2 L873.4,3827.6 L876.4,3824.0 L879.4,3822.2 L882.4,3821.4 L885.4,3821.0 L888.4,3820.6 L891.4,3820.0 L894.4,3818.6 L897.4,3815.5 L900.4,3811.4 L903.4,3806.8 L906.4,3802.6 L909.4,3798.4 L912.4,3793.9 L915.4,3789.5 L918.4,3785.9 L921.4,3783.3 L924.4,3781.2 L927.4,3779.3 L930.4,3777.8 L933.4,3776.7 L936.4,3775.8 L939.4,3775.0 L942.4,3774.3 L945.4,3773.9 L948.4,3773.8 L951.4,3774.2 L954.4,3774.8 L957.4,3775.5 L960.4,3776.4 L963.4,3777.2 L966.4,3778.1 L969.4,3779.3 L972.4,3781.3 L975.4,3784.6 L978.5,3787.8 L981.5,3789.7 L984.5,3791.1 L987.5,3792.3 L990.5,3793.4 L993.5,3794.4 L996.5,3795.3 L999.5,3796.2 L1002.5,3797.3 L1005.5,3798.5 L1008.5,3799.5 L1011.5,3800.2 L1014.5,3800.5 L1017.5,3800.3 L1020.5,3799.7 L1023.5,3798.8 L1026.5,3797.6 L1029.5,3796.4 L1032.5,3795.2 L1035.5,3794.1 L1038.5,3792.8 L1041.5,3791.4 L1044.5,3789.9 L1047.5,3788.2 L1050.5,3786.4 L1053.5,3784.0 L1056.5,3780.5 L1059.5,3776.7 L1062.5,3773.4 L1065.5,3771.2 L1068.5,3770.8 L1071.5,3771.1 L1074.5,3771.5 L1077.5,3772.0 L1080.5,3772.2 L1083.5,3772.1 L1086.6,3772.0 L1089.6,3771.7 L1092.6,3771.4 L1095.6,3771.0 L1098.6,3770.5 L1101.6,3769.8 L1104.6,3768.8 L1107.6,3767.6 L1110.6,3766.2 L1113.6,3764.8 L1116.6,3763.5 L1119.6,3762.2 L1122.6,3760.8 L1125.6,3759.3 L1128.6,3757.8 L1131.6,3756.2 L1134.6,3754.6 L1137.6,3753.1 L1140.6,3751.5 L1143.6,3750.0 L1146.6,3748.6 L1149.6,3747.1 L1152.6,3745.6 L1155.6,3744.1 L1158.6,3742.6 L1161.6,3741.1 L1164.6,3739.5 L1167.6,3737.9 L1170.6,3736.3 L1173.6,3734.6 L1176.6,3733.0 L1179.6,3731.5 L1182.6,3730.1 L1185.6,3728.7 L1188.6,3727.3 L1191.7,3726.1 L1194.7,3725.2 L1197.7,3724.6 L1200.7,3724.1 L1203.7,3723.6 L1206.7,3723.2 L1209.7,3722.9 L1212.7,3722.8 L1215.7,3722.8 L1218.7,3723.0 L1221.7,3723.3 L1224.7,3723.8 L1227.7,3724.3 L1230.7,3724.8 L1233.7,3725.3 L1236.7,3726.0 L1239.7,3726.9 L1242.7,3727.8 L1245.7,3728.8 L1248.7,3729.9 L1251.7,3731.1 L1254.7,3732.4 L1257.7,3733.9 L1260.7,3735.5 L1263.7,3737.2 L1266.7,3739.0 L1269.7,3740.8 L1272.7,3742.6 L1275.7,3744.5 L1278.7,3746.5 L1281.7,3748.6 L1284.7,3750.8 L1287.7,3753.1 L1290.7,3755.5 L1293.7,3758.0 L1296.7,3760.6 L1299.8,3763.3 L1302.8,3766.1 L1305.8,3769.0 L1308.8,3771.9 L1311.8,3775.0 L1314.8,3778.1 L1317.8,3781.3 L1320.8,3784.6 L1323.8,3787.9 L1326.8,3791.4 L1329.8,3794.9 L1332.8,3798.6 L1335.8,3802.3 L1338.8,3805.9 L1341.8,3809.6 L1344.8,3813.2 L1347.8,3816.9 L1350.8,3820.6 L1353.8,3824.2 L1356.8,3827.8 L1359.8,3831.2 L1362.8,3834.6 L1365.8,3837.9 L1368.8,3841.1 L1371.8,3844.2 L1374.8,3847.3 L1377.8,3850.2 L1380.8,3853.1 L1383.8,3855.8 L1386.8,3858.5 L1389.8,3861.1 L1392.8,3863.6 L1395.8,3866.1 L1398.8,3868.5 L1401.8,3870.9 L1404.9,3873.2 L1407.9,3875.5 L1410.9,3877.7 L1413.9,3879.8 L1416.9,3881.8 L1419.9,3883.8 L1422.9,3885.7 L1425.9,3887.6 L1428.9,3889.4 L1431.9,3891.2 L1434.9,3892.9 L1437.9,3894.7 L1440.9,3896.4 L1443.9,3898.1 L1446.9,3899.7 L1449.9,3901.3 L1452.9,3902.7 L1455.9,3904.0 L1458.9,3905.2 L1461.9,3906.4 L1464.9,3907.5 L1467.9,3908.7 L1470.9,3909.8 L1473.9,3911.0 L1476.9,3912.2 L1479.9,3913.4 L1482.9,3914.5 L1485.9,3915.6 L1488.9,3916.5 L1491.9,3917.3 L1494.9,3918.1 L1497.9,3918.9 L1500.9,3919.7 L1503.9,3920.6 L1506.9,3921.7 L1509.9,3923.0 L1513.0,3924.3 L1516.0,3925.6 L1519.0,3927.0 L1522.0,3928.2 L1525.0,3929.4 L1528.0,3930.4 L1531.0,3931.2 L1534.0,3931.7 L1537.0,3932.2 L1540.0,3932.5 L1543.0,3932.9 L1546.0,3933.2 L1549.0,3933.5 L1552.0,3933.9 L1555.0,3934.2 L1558.0,3934.5 L1561.0,3934.7 L1564.0,3935.1 L1567.0,3935.4 L1570.0,3935.8 L1573.0,3936.3 L1576.0,3937.1 L1579.0,3938.0 L1582.0,3939.1 L1585.0,3940.2 L1588.0,3941.4 L1591.0,3942.6 L1594.0,3943.7 L1597.0,3944.7 L1600.0,3945.9 L1603.0,3947.0 L1606.0,3948.3 L1609.0,3949.6 L1612.0,3951.2 L1615.0,3953.0 L1618.1,3955.1 L1621.1,3957.2 L1624.1,3959.4 L1627.1,3961.6 L1630.1,3963.7 L1633.1,3965.8 L1636.1,3967.9 L1639.1,3970.0 L1642.1,3972.2 L1645.1,3974.2 L1648.1,3976.2 L1651.1,3978.2 L1654.1,3980.1 L1657.1,3982.1 L1660.1,3983.9 L1663.1,3985.7 L1666.1,3987.4 L1669.1,3989.0 L1672.1,3990.6 L1675.1,3992.1 L1678.1,3993.6 L1681.1,3995.0 L1684.1,3996.3 L1687.1,3997.5 L1690.1,3998.7 L1693.1,3999.9 L1696.1,4001.0 L1699.1,4002.0 L1702.1,4003.0 L1705.1,4003.9 L1708.1,4004.7 L1711.1,4005.6 L1714.1,4006.3 L1717.1,4006.9 L1720.1,4007.4 L1723.1,4007.8 L1726.2,4008.2 L1729.2,4008.6 L1732.2,4008.8 L1735.2,4009.1 L1738.2,4009.2 L1741.2,4009.4 L1744.2,4009.5 L1747.2,4009.6 L1750.2,4009.6 L1753.2,4009.7 L1756.2,4009.7 L1759.2,4009.7 L1762.2,4009.6 L1765.2,4009.5 L1768.2,4009.3 L1771.2,4009.1 L1774.2,4008.8 L1777.2,4008.5 L1780.2,4008.3 L1783.2,4007.9 L1786.2,4007.4 L1789.2,4006.8 L1792.2,4006.1 L1795.2,4005.4 L1798.2,4004.7 L1801.2,4004.0 L1804.2,4003.4 L1807.2,4002.7 L1810.2,4002.0 L1813.2,4001.3 L1816.2,4000.6 L1819.2,3999.8 L1822.2,3999.1 L1825.2,3998.3 L1828.2,3997.4 L1831.3,3996.5 L1834.3,3995.5 L1837.3,3994.5 L1840.3,3993.5 L1843.3,3992.5 L1846.3,3991.5 L1849.3,3990.6 L1852.3,3989.7 L1855.3,3988.8 L1858.3,3987.9 L1861.3,3987.1 L1864.3,3986.2 L1867.3,3985.5 L1870.3,3984.7 L1873.3,3984.0 L1876.3,3983.4 L1879.3,3982.8 L1882.3,3982.2 L1885.3,3981.6 L1888.3,3981.1 L1891.3,3980.5 L1894.3,3979.9 L1897.3,3979.1 L1900.3,3978.3 L1903.3,3977.7 L1906.3,3977.4 L1909.3,3977.6 L1912.3,3977.8 L1915.3,3978.2 L1918.3,3978.6 L1921.3,3979.0 L1924.3,3979.3 L1927.3,3979.5 L1930.3,3979.7 L1933.3,3979.8 L1936.4,3980.0 L1939.4,3980.2 L1942.4,3980.4 L1945.4,3980.6 L1948.4,3980.9 L1951.4,3981.2 L1954.4,3981.5 L1957.4,3981.8 L1960.4,3982.1 L1963.4,3982.4 L1966.4,3982.7 L1969.4,3982.9 L1972.4,3983.2 L1975.4,3983.4 L1978.4,3983.6 L1981.4,3983.9 L1984.4,3984.1 L1987.4,3984.3 L1990.4,3984.5 L1993.4,3984.6 L1996.4,3984.8 L1999.4,3985.0 L2002.4,3985.1 L2005.4,3985.2 L2008.4,3985.4 L2011.4,3985.5 L2014.4,3985.6 L2017.4,3985.7 L2020.4,3985.8 L2023.4,3986.0 L2026.4,3986.1 L2029.4,3986.3 L2032.4,3986.4 L2035.4,3986.6 L2038.4,3986.9 L2041.4,3987.2 L2044.5,3987.7 L2047.5,3988.3 L2050.5,3989.0 L2053.5,3989.7 L2056.5,3990.3 L2059.5,3991.0 L2062.5,3991.6 L2065.5,3992.1 L2068.5,3992.7 L2071.5,3993.3 L2074.5,3993.9 L2077.5,3994.6 L2080.5,3995.3 L2083.5,3996.1 L2086.5,3996.9 L2089.5,3997.8 L2092.5,3998.6 L2095.5,3999.3 L2098.5,3999.9 L2101.5,4000.6 L2104.5,4001.2 L2107.5,4001.8 L2110.5,4002.3 L2113.5,4002.7 L2116.5,4003.1 L2119.5,4003.4 L2122.5,4003.7 L2125.5,4004.0 L2128.5,4004.3 L2131.5,4004.4 L2134.5,4004.5 L2137.5,4004.5 L2140.5,4004.5 L2143.5,4004.4 L2146.5,4004.4 L2149.6,4004.3 L2152.6,4004.2 L2155.6,4004.1 L2158.6,4003.9 L2161.6,4003.6 L2164.6,4003.3 L2167.6,4002.9 L2170.6,4002.5 L2173.6,4002.1 L2176.6,4001.7 L2179.6,4001.2 L2182.6,4000.6 L2185.6,4000.0 L2188.6,3999.3 L2191.6,3998.5 L2194.6,3997.6 L2197.6,3996.5 L2200.6,3995.3 L2203.6,3994.1 L2206.6,3992.9 L2209.6,3991.9 L2212.6,3990.9 L2215.6,3989.9 L2218.6,3989.0 L2221.6,3988.3 L2224.6,3987.8 L2227.6,3987.4 L2230.6,3987.1 L2233.6,3986.8 L2236.6,3986.4 L2239.6,3985.9 L2242.6,3985.3 L2245.6,3984.6 L2248.6,3983.8 L2251.6,3982.9 L2254.6,3981.8 L2257.7,3980.6 L2260.7,3979.1 L2263.7,3977.5 L2266.7,3975.7 L2269.7,3974.0 L2272.7,3971.9 L2275.7,3969.7 L2278.7,3967.5 L2281.7,3965.4 L2284.7,3963.4 L2287.7,3961.4 L2290.7,3959.6 L2293.7,3957.9 L2296.7,3956.4 L2299.7,3955.1 L2302.7,3953.9 L2305.7,3952.8 L2308.7,3951.9" fill="none" stroke="#ff0000" stroke-width="13.2" stroke-linejoin="round" stroke-linecap="butt"/>
<path d="M392.9,3874.5 L395.9,3873.7 L398.9,3872.8 L401.9,3871.9 L404.9,3870.8 L407.9,3869.7 L410.9,3868.5 L413.9,3867.3 L416.9,3865.9 L419.9,3864.5 L422.9,3862.9 L425.9,3861.3 L428.9,3859.7 L431.9,3858.1 L434.9,3856.5 L437.9,3854.8 L440.9,3853.2 L443.9,3851.4 L447.0,3849.5 L450.0,3847.5 L453.0,3845.5 L456.0,3843.2 L459.0,3840.8 L462.0,3838.3 L465.0,3835.5 L468.0,3832.6 L471.0,3829.3 L474.0,3825.3 L477.0,3820.2 L480.0,3813.9 L483.0,3807.2 L486.0,3799.5 L489.0,3791.1 L492.0,3784.6 L495.0,3779.8 L498.0,3775.7 L501.0,3773.8 L504.0,3774.0 L507.0,3774.5 L510.0,3775.0 L513.0,3775.2 L516.0,3773.4 L519.0,3769.7 L522.0,3765.9 L525.0,3762.2 L528.0,3758.2 L531.0,3754.0 L534.0,3749.8 L537.0,3745.9 L540.0,3742.0 L543.0,3738.1 L546.0,3734.3 L549.0,3730.6 L552.0,3727.0 L555.1,3723.5 L558.1,3720.1 L561.1,3716.7 L564.1,3713.5 L567.1,3710.4 L570.1,3707.5 L573.1,3704.9 L576.1,3702.5 L579.1,3700.2 L582.1,3698.1 L585.1,3696.4 L588.1,3695.1 L591.1,3693.9 L594.1,3692.9 L597.1,3692.1 L600.1,3691.3 L603.1,3690.6 L606.1,3689.9 L609.1,3689.3 L612.1,3688.9 L615.1,3688.7 L618.1,3688.7 L621.1,3688.7 L624.1,3688.7 L627.1,3688.7 L630.1,3688.7 L633.1,3688.7 L636.1,3688.4 L639.1,3687.9 L642.1,3687.3 L645.1,3686.6 L648.1,3685.9 L651.1,3685.1 L654.1,3684.1 L657.1,3682.9 L660.2,3681.3 L663.2,3679.0 L666.2,3674.9 L669.2,3668.9 L672.2,3659.8 L675.2,3643.4 L678.2,3627.8 L681.2,3613.0 L684.2,3606.9 L687.2,3604.5 L690.2,3603.6 L693.2,3608.5 L696.2,3615.7 L699.2,3620.9 L702.2,3624.1 L705.2,3621.4 L708.2,3613.9 L711.2,3605.8 L714.2,3595.8 L717.2,3585.3 L720.2,3576.2 L723.2,3567.6 L726.2,3559.6 L729.2,3552.1 L732.2,3545.1 L735.2,3538.5 L738.2,3532.4 L741.2,3526.7 L744.2,3521.2 L747.2,3516.2 L750.2,3511.8 L753.2,3507.8 L756.2,3504.2 L759.2,3500.9 L762.2,3497.9 L765.2,3495.3 L768.3,3492.9 L771.3,3490.7 L774.3,3488.8 L777.3,3487.2 L780.3,3486.1 L783.3,3485.0 L786.3,3484.0 L789.3,3483.2 L792.3,3482.6 L795.3,3482.3 L798.3,3482.3 L801.3,3482.3 L804.3,3482.3 L807.3,3482.3 L810.3,3482.3 L813.3,3482.3 L816.3,3482.3 L819.3,3482.6 L822.3,3483.1 L825.3,3483.7 L828.3,3484.4 L831.3,3485.1 L834.3,3485.8 L837.3,3486.6 L840.3,3487.6 L843.3,3488.7 L846.3,3489.8 L849.3,3490.8 L852.3,3491.7 L855.3,3492.8 L858.3,3494.0 L861.3,3495.0 L864.3,3495.7 L867.3,3496.0 L870.3,3495.9 L873.4,3495.7 L876.4,3495.2 L879.4,3494.7 L882.4,3494.0 L885.4,3492.9 L888.4,3490.6 L891.4,3487.5 L894.4,3484.2 L897.4,3480.9 L900.4,3477.4 L903.4,3473.6 L906.4,3469.5 L909.4,3465.3 L912.4,3460.9 L915.4,3456.5 L918.4,3451.9 L921.4,3447.3 L924.4,3442.8 L927.4,3438.2 L930.4,3433.8 L933.4,3429.3 L936.4,3424.7 L939.4,3420.2 L942.4,3415.7 L945.4,3411.4 L948.4,3407.2 L951.4,3403.1 L954.4,3399.2 L957.4,3395.5 L960.4,3392.2 L963.4,3389.0 L966.4,3386.0 L969.4,3383.2 L972.4,3380.8 L975.4,3378.4 L978.5,3376.1 L981.5,3374.2 L984.5,3372.8 L987.5,3371.8 L990.5,3370.8 L993.5,3370.0 L996.5,3369.5 L999.5,3369.5 L1002.5,3369.9 L1005.5,3370.8 L1008.5,3372.1 L1011.5,3373.6 L1014.5,3375.3 L1017.5,3378.0 L1020.5,3381.2 L1023.5,3384.7 L1026.5,3388.2 L1029.5,3392.7 L1032.5,3397.7 L1035.5,3401.5 L1038.5,3402.3 L1041.5,3401.5 L1044.5,3399.7 L1047.5,3395.8 L1050.5,3377.3 L1053.5,3367.2 L1056.5,3364.7 L1059.5,3363.5 L1062.5,3366.8 L1065.5,3378.0 L1068.5,3393.1 L1071.5,3410.1 L1074.5,3421.2 L1077.5,3430.2 L1080.5,3438.5 L1083.5,3446.4 L1086.6,3452.9 L1089.6,3457.2 L1092.6,3461.0 L1095.6,3464.0 L1098.6,3465.5 L1101.6,3465.5 L1104.6,3465.3 L1107.6,3465.0 L1110.6,3464.5 L1113.6,3464.1 L1116.6,3463.3 L1119.6,3462.1 L1122.6,3460.8 L1125.6,3459.4 L1128.6,3458.2 L1131.6,3457.2 L1134.6,3456.4 L1137.6,3455.6 L1140.6,3454.9 L1143.6,3454.2 L1146.6,3453.8 L1149.6,3453.6 L1152.6,3453.7 L1155.6,3453.7 L1158.6,3453.8 L1161.6,3454.0 L1164.6,3454.2 L1167.6,3454.8 L1170.6,3455.8 L1173.6,3457.1 L1176.6,3458.4 L1179.6,3459.9 L1182.6,3461.8 L1185.6,3463.9 L1188.6,3466.3 L1191.7,3468.8 L1194.7,3471.5 L1197.7,3474.5 L1200.7,3477.8 L1203.7,3481.2 L1206.7,3484.5 L1209.7,3487.9 L1212.7,3491.5 L1215.7,3495.0 L1218.7,3498.3 L1221.7,3501.2 L1224.7,3503.3 L1227.7,3504.9 L1230.7,3506.3 L1233.7,3507.8 L1236.7,3510.0 L1239.7,3513.5 L1242.7,3518.4 L1245.7,3523.5 L1248.7,3528.8 L1251.7,3534.6 L1254.7,3540.4 L1257.7,3545.9 L1260.7,3550.6 L1263.7,3554.9 L1266.7,3558.8 L1269.7,3562.6 L1272.7,3566.5 L1275.7,3570.4 L1278.7,3574.3 L1281.7,3578.1 L1284.7,3582.0 L1287.7,3585.9 L1290.7,3589.8 L1293.7,3593.9 L1296.7,3598.0 L1299.8,3602.2 L1302.8,3606.4 L1305.8,3610.7 L1308.8,3615.0 L1311.8,3619.3 L1314.8,3623.8 L1317.8,3628.3 L1320.8,3632.8 L1323.8,3637.4 L1326.8,3641.9 L1329.8,3646.4 L1332.8,3650.8 L1335.8,3655.2 L1338.8,3659.7 L1341.8,3664.2 L1344.8,3668.8 L1347.8,3673.6 L1350.8,3678.7 L1353.8,3683.9 L1356.8,3689.2 L1359.8,3694.6 L1362.8,3700.0 L1365.8,3705.4 L1368.8,3710.9 L1371.8,3716.4 L1374.8,3722.0 L1377.8,3727.6 L1380.8,3733.2 L1383.8,3738.7 L1386.8,3744.2 L1389.8,3749.5 L1392.8,3754.8 L1395.8,3760.2 L1398.8,3765.8 L1401.8,3771.7 L1404.9,3777.9 L1407.9,3784.4 L1410.9,3791.1 L1413.9,3797.8 L1416.9,3804.2 L1419.9,3810.4 L1422.9,3816.8 L1425.9,3823.9 L1428.9,3832.3 L1431.9,3842.0 L1434.9,3852.5 L1437.9,3864.0 L1440.9,3876.9 L1443.9,3888.8 L1446.9,3897.9 L1449.9,3905.7 L1452.9,3912.7 L1455.9,3919.3 L1458.9,3925.6 L1461.9,3931.5 L1464.9,3937.2 L1467.9,3943.4 L1470.9,3950.4 L1473.9,3957.9 L1476.9,3965.7 L1479.9,3973.8 L1482.9,3982.2 L1485.9,3990.5 L1488.9,3998.3 L1491.9,4005.8 L1494.9,4013.2 L1497.9,4020.5 L1500.9,4027.8 L1503.9,4035.0 L1506.9,4042.1 L1509.9,4048.9 L1513.0,4055.7 L1516.0,4062.3 L1519.0,4068.4 L1522.0,4074.2 L1525.0,4079.8 L1528.0,4085.0 L1531.0,4089.8 L1534.0,4094.5 L1537.0,4098.8 L1540.0,4102.7 L1543.0,4105.9 L1546.0,4108.8 L1549.0,4111.4 L1552.0,4113.7 L1555.0,4115.7 L1558.0,4117.5 L1561.0,4119.2 L1564.0,4120.7 L1567.0,4122.0 L1570.0,4123.1 L1573.0,4124.1 L1576.0,4125.0 L1579.0,4125.8 L1582.0,4126.3 L1585.0,4126.6 L1588.0,4126.8 L1591.0,4127.0 L1594.0,4127.1 L1597.0,4127.4 L1600.0,4127.7 L1603.0,4128.1 L1606.0,4128.6 L1609.0,4129.3 L1612.0,4130.2 L1615.0,4131.8 L1618.1,4134.0 L1621.1,4136.8 L1624.1,4141.2 L1627.1,4148.3 L1630.1,4158.6 L1633.1,4173.1 L1636.1,4187.3 L1639.1,4197.0 L1642.1,4202.2 L1645.1,4205.0 L1648.1,4204.7 L1651.1,4202.9 L1654.1,4200.0 L1657.1,4192.6 L1660.1,4188.4 L1663.1,4186.9 L1666.1,4194.3 L1669.1,4202.8 L1672.1,4211.2 L1675.1,4218.5 L1678.1,4224.9 L1681.1,4230.8 L1684.1,4236.1 L1687.1,4240.9 L1690.1,4245.3 L1693.1,4249.3 L1696.1,4253.1 L1699.1,4256.7 L1702.1,4259.8 L1705.1,4262.3 L1708.1,4264.5 L1711.1,4266.4 L1714.1,4267.8 L1717.1,4268.8 L1720.1,4269.6 L1723.1,4270.0 L1726.2,4270.0 L1729.2,4269.4 L1732.2,4268.4 L1735.2,4267.3 L1738.2,4265.9 L1741.2,4264.1 L1744.2,4261.8 L1747.2,4259.4 L1750.2,4256.7 L1753.2,4253.6 L1756.2,4250.1 L1759.2,4246.5 L1762.2,4242.8 L1765.2,4238.9 L1768.2,4234.7 L1771.2,4230.4 L1774.2,4225.9 L1777.2,4221.4 L1780.2,4216.7 L1783.2,4211.9 L1786.2,4206.9 L1789.2,4201.9 L1792.2,4196.8 L1795.2,4191.6 L1798.2,4186.4 L1801.2,4181.1 L1804.2,4175.8 L1807.2,4170.5 L1810.2,4165.1 L1813.2,4159.8 L1816.2,4154.6 L1819.2,4149.4 L1822.2,4144.3 L1825.2,4139.2 L1828.2,4134.4 L1831.3,4129.7 L1834.3,4125.0 L1837.3,4120.5 L1840.3,4116.9 L1843.3,4114.3 L1846.3,4112.0 L1849.3,4110.2 L1852.3,4109.1 L1855.3,4108.6 L1858.3,4108.2 L1861.3,4107.9 L1864.3,4107.7 L1867.3,4107.7 L1870.3,4107.8 L1873.3,4108.1 L1876.3,4108.5 L1879.3,4109.0 L1882.3,4109.5 L1885.3,4110.0 L1888.3,4110.6 L1891.3,4111.4 L1894.3,4112.2 L1897.3,4113.1 L1900.3,4113.9 L1903.3,4114.6 L1906.3,4115.2 L1909.3,4116.0 L1912.3,4116.7 L1915.3,4117.4 L1918.3,4117.9 L1921.3,4118.4 L1924.3,4118.5 L1927.3,4118.5 L1930.3,4118.2 L1933.3,4117.6 L1936.4,4117.0 L1939.4,4116.2 L1942.4,4115.3 L1945.4,4114.3 L1948.4,4112.9 L1951.4,4111.1 L1954.4,4109.1 L1957.4,4106.8 L1960.4,4104.4 L1963.4,4101.8 L1966.4,4098.8 L1969.4,4095.5 L1972.4,4092.0 L1975.4,4088.2 L1978.4,4084.1 L1981.4,4079.5 L1984.4,4074.7 L1987.4,4069.9 L1990.4,4064.5 L1993.4,4058.2 L1996.4,4053.2 L1999.4,4052.4 L2002.4,4062.7 L2005.4,4074.6 L2008.4,4086.5 L2011.4,4094.8 L2014.4,4099.9 L2017.4,4101.3 L2020.4,4099.6 L2023.4,4094.9 L2026.4,4079.5 L2029.4,4060.0 L2032.4,4041.5 L2035.4,4030.0 L2038.4,4020.6 L2041.4,4011.7 L2044.5,4003.9 L2047.5,3997.6 L2050.5,3992.3 L2053.5,3988.1 L2056.5,3984.8 L2059.5,3981.9 L2062.5,3979.3 L2065.5,3976.5 L2068.5,3973.8 L2071.5,3971.3 L2074.5,3969.4 L2077.5,3967.9 L2080.5,3966.6 L2083.5,3965.5 L2086.5,3964.3 L2089.5,3963.2 L2092.5,3962.0 L2095.5,3960.8 L2098.5,3959.7 L2101.5,3958.5 L2104.5,3957.1 L2107.5,3955.6 L2110.5,3954.0 L2113.5,3952.2 L2116.5,3950.5 L2119.5,3948.9 L2122.5,3947.3 L2125.5,3945.8 L2128.5,3944.3 L2131.5,3942.8 L2134.5,3941.4 L2137.5,3939.9 L2140.5,3938.4 L2143.5,3936.9 L2146.5,3935.4 L2149.6,3933.9 L2152.6,3932.4 L2155.6,3930.8 L2158.6,3929.2 L2161.6,3927.5 L2164.6,3925.8 L2167.6,3924.2 L2170.6,3922.6 L2173.6,3921.1 L2176.6,3919.6 L2179.6,3918.2 L2182.6,3916.8 L2185.6,3915.4 L2188.6,3914.1 L2191.6,3912.8 L2194.6,3911.5 L2197.6,3910.1 L2200.6,3908.7 L2203.6,3907.5 L2206.6,3906.3 L2209.6,3905.4 L2212.6,3904.6 L2215.6,3904.1 L2218.6,3903.6 L2221.6,3903.2 L2224.6,3902.8 L2227.6,3902.4 L2230.6,3901.8 L2233.6,3901.2 L2236.6,3900.6 L2239.6,3899.9 L2242.6,3899.2 L2245.6,3898.4 L2248.6,3897.5 L2251.6,3896.5 L2254.6,3895.3 L2257.7,3893.9 L2260.7,3892.5 L2263.7,3891.1 L2266.7,3889.7 L2269.7,3888.4 L2272.7,3887.1 L2275.7,3885.8 L2278.7,3884.6 L2281.7,3883.4 L2284.7,3882.3 L2287.7,3881.2 L2290.7,3880.3 L2293.7,3879.4 L2296.7,3878.5 L2299.7,3877.7 L2302.7,3876.9 L2305.7,3876.2 L2308.7,3875.6" fill="none" stroke="#00ff00" stroke-width="13.2" stroke-linejoin="round" stroke-linecap="butt"/>
<path d="M393.7,3937.7 L400.6,3956.0 L408.4,3887.3 L414.3,3967.4 L424.4,3855.3 L430.3,3878.2 L435.8,4017.8 L445.0,3873.6 L450.9,3972.0 L456.9,3871.3 L464.7,3889.6 L471.5,3889.6 L477.5,3956.0 L486.2,3953.7 L493.5,3923.9 L499.9,3919.4 L503.6,3889.6 L510.4,3887.3 L515.0,3935.4 L525.5,3942.2 L531.0,3869.0 L537.9,3878.2 L541.1,3930.8 L551.6,3859.9 L556.2,3901.1 L563.1,3873.6 L568.6,3917.1 L574.5,3873.6 L579.1,3905.6 L589.6,3848.4 L594.2,3907.9 L600.6,3907.9 L608.8,3864.4 L618.0,3853.0 L621.6,3754.6 L628.1,3766.0 L631.7,3832.4 L640.9,3846.1 L653.7,3866.7 L659.2,3800.4 L664.7,3818.7 L670.6,3859.9 L676.6,3880.5 L684.3,3841.6 L691.2,3816.4 L695.8,3859.9 L704.0,3823.2 L709.5,3859.9 L712.7,3940.0 L722.3,3830.1 L727.8,3837.0 L732.4,3891.9 L740.6,3903.3 L746.1,3891.9 L760.8,3788.9 L769.0,3834.7 L774.5,3834.7 L782.7,3798.1 L789.6,3791.2 L793.3,3871.3 L803.3,3747.7 L807.9,3830.1 L819.4,3873.6 L830.8,3731.7 L837.7,3809.5 L851.4,3837.0 L856.9,3795.8 L861.5,3795.8 L867.4,3740.9 L874.3,3740.9 L882.5,3777.5 L888.9,3793.5 L899.5,3727.1 L905.4,3727.1 L910.0,3656.2 L922.3,3692.8 L929.2,3660.8 L937.4,3656.2 L942.0,3699.7 L947.5,3708.8 L958.9,3702.0 L963.5,3653.9 L970.4,3672.2 L975.0,3718.0 L980.3,3722.7 L984.9,3649.5 L991.8,3663.2 L995.0,3704.4 L1000.9,3695.3 L1005.5,3644.9 L1012.4,3638.1 L1019.2,3654.1 L1022.4,3686.1 L1027.0,3683.8 L1031.6,3633.5 L1038.5,3690.7 L1044.4,3635.8 L1049.9,3633.5 L1054.5,3713.6 L1062.7,3601.5 L1071.9,3612.9 L1075.5,3574.0 L1081.0,3612.9 L1086.5,3585.4 L1092.5,3615.2 L1101.6,3551.1 L1108.5,3599.2 L1117.6,3693.0 L1124.5,3654.1 L1133.7,3560.3 L1140.5,3599.2 L1146.0,3583.2 L1152.0,3599.2 L1155.6,3654.1 L1163.4,3635.8 L1172.6,3631.2 L1177.1,3608.3 L1181.7,3606.0 L1188.6,3580.9 L1195.4,3612.9 L1203.7,3665.5 L1210.1,3633.5 L1216.0,3654.1 L1219.2,3599.2 L1227.5,3594.6 L1233.0,3612.9 L1236.6,3644.9 L1241.2,3658.7 L1246.7,3693.0 L1255.9,3626.6 L1260.4,3617.5 L1267.3,3647.2 L1273.2,3587.7 L1278.7,3631.2 L1283.3,3672.4 L1289.3,3695.3 L1298.4,3715.9 L1305.3,3647.2 L1309.9,3738.8 L1320.4,3688.4 L1325.9,3718.2 L1331.8,3752.5 L1337.3,3704.4 L1344.2,3718.2 L1353.3,3718.2 L1360.2,3683.8 L1367.1,3727.3 L1373.9,3754.8 L1380.8,3812.0 L1387.7,3791.4 L1395.9,3745.6 L1403.7,3773.1 L1410.5,3862.3 L1422.0,3862.3 L1427.9,3807.4 L1435.7,3828.0 L1444.9,3818.9 L1449.5,3846.3 L1456.3,3887.5 L1464.6,3853.2 L1471.0,3887.5 L1481.5,3887.5 L1486.1,3912.7 L1492.1,3912.2 L1498.1,3928.2 L1504.0,3919.1 L1507.2,3987.7 L1514.1,3976.3 L1522.3,3919.1 L1530.1,3916.8 L1534.7,3932.8 L1540.6,3944.3 L1544.7,4012.9 L1551.6,3987.7 L1556.2,4047.2 L1564.4,3996.9 L1572.7,3992.3 L1578.1,4006.0 L1581.4,4083.8 L1588.2,4099.9 L1594.2,4097.6 L1597.4,4035.8 L1605.6,4042.7 L1610.2,3978.6 L1617.0,4012.9 L1625.3,4074.7 L1633.1,4035.8 L1646.8,3958.0 L1651.4,3990.0 L1656.9,4047.2 L1662.8,3948.8 L1668.8,4035.8 L1674.3,3999.2 L1683.4,4008.3 L1688.9,4058.7 L1694.9,4015.2 L1701.7,4022.1 L1710.0,4040.4 L1722.3,4090.7 L1726.9,4063.2 L1733.8,4065.5 L1739.2,4040.4 L1748.4,4033.5 L1753.0,4088.4 L1763.5,4051.8 L1769.5,3980.9 L1774.9,4083.8 L1781.8,4031.2 L1791.0,4054.1 L1796.9,4008.3 L1804.7,4010.6 L1811.6,3967.1 L1823.0,3971.7 L1833.5,4006.0 L1844.5,3962.6 L1855.0,4008.3 L1864.2,3962.6 L1875.6,3969.4 L1882.5,3953.4 L1889.4,3960.3 L1898.5,4010.6 L1906.0,4006.0 L1914.4,3922.1 L1921.3,3956.5 L1930.8,3969.8 L1935.7,4021.3 L1941.1,4048.0 L1946.0,3992.7 L1951.0,3994.6 L1956.3,4034.6 L1963.2,3971.7 L1968.9,3948.8 L1973.9,3943.1 L1977.3,4002.2 L1984.2,3958.4 L1990.7,3960.3 L1997.5,3983.2 L1999.4,3946.9 L2005.2,3964.1 L2009.7,3964.1 L2014.7,4040.4 L2022.3,3948.8 L2031.1,3929.0 L2035.7,3967.9 L2041.4,4006.0 L2050.2,3939.3 L2056.6,3941.2 L2058.6,3979.3 L2068.1,3939.3 L2075.7,3952.6 L2085.3,3979.3 L2094.8,4007.9 L2104.3,3956.5 L2111.9,3971.7 L2116.5,3950.7 L2126.4,3943.1 L2132.9,3958.4 L2137.9,3983.2 L2148.2,3910.7 L2153.9,3956.5 L2158.5,3916.4 L2165.3,3935.5 L2174.9,3971.7 L2182.5,3939.3 L2190.1,3884.0 L2197.0,4028.9 L2207.3,3842.0 L2213.0,3887.8 L2220.6,3933.6 L2228.3,3952.6 L2234.0,3872.6 L2241.6,3914.5 L2250.4,3971.7 L2258.8,3910.7 L2264.5,3899.3 L2271.4,3948.8 L2275.9,3899.3 L2281.7,3903.1 L2289.3,3887.8 L2295.0,3851.6 L2299.6,3847.8 L2303.8,3933.6 L2308.4,3927.9" fill="none" stroke="#ff00ff" stroke-width="13.2" stroke-linejoin="round" stroke-linecap="butt"/>
<rect x="1733.7" y="3273.5" width="543.9" height="257.9" fill="#fff" stroke="#262626" stroke-width="3"/>
<path d="M1745.6,3319.7H1865" stroke="#ff0000" stroke-width="12.5" fill="none"/>
<text x="1886" y="3341.5" font-family="'Liberation Serif',serif" font-size="70.6" fill="#000">Q8−DIC</text>
<path d="M1745.6,3402.4H1865" stroke="#00ff00" stroke-width="12.5" fill="none"/>
<text x="1886" y="3427.2" font-family="'Liberation Serif',serif" font-size="70.6" fill="#000">Extrapolation</text>
<path d="M1745.6,3484.7H1865" stroke="#ff00ff" stroke-width="12.5" fill="none"/>
<text x="1886" y="3509" font-family="'Liberation Serif',serif" font-size="61.8" fill="#000">Half−subset</text>
<text transform="translate(171.20,4175.31) rotate(-90) scale(1.0049,1)" font-family="'Liberation Serif',serif" font-size="128" fill="#000">Error of</text>
<text transform="translate(173.20,3740.40) rotate(-90) scale(1.1423,1)" font-family="'Liberation Serif',serif" font-size="128.0" font-style="italic" fill="#000">v</text>
<text transform="translate(171.20,3670.30) rotate(-90) scale(0.9336,1)" font-family="'Liberation Serif',serif" font-size="128" fill="#000">/</text>
<text transform="translate(171.20,3639.16) rotate(-90) scale(1.0007,1)" font-family="'Liberation Serif',serif" font-size="128" fill="#000">pixel</text>
<text transform="translate(1275.21,4522.00) scale(1.1005,1)" font-family="'Liberation Serif',serif" font-size="124.5" font-style="italic" fill="#000">θ</text>
<text transform="translate(1350.20,4522.00) scale(0.9737,1)" font-family="'Liberation Serif',serif" font-size="131.97" fill="#000">/</text>
<text transform="translate(1397.32,4492.55) scale(0.9993,1)" font-family="'Liberation Serif',serif" font-size="95.7095709570957" fill="#000">°</text>
<text transform="translate(1029.64,4645.40) scale(0.9577,1)" font-family="'Liberation Serif',serif" font-size="87" fill="#000">(</text>
<text transform="translate(1058.98,4645.40) scale(1.2215,1)" font-family="'Liberation Serif',serif" font-size="70" font-weight="bold" fill="#000">c</text>
<text transform="translate(1096.41,4645.40) scale(0.9577,1)" font-family="'Liberation Serif',serif" font-size="87" fill="#000">)</text>
<text transform="translate(1142.49,4645.40) scale(1.0128,1)" font-family="'Liberation Serif',serif" font-size="66" font-style="italic" fill="#000">r</text>
<text transform="translate(1185.38,4645.40) scale(1.0419,1)" font-family="'Liberation Serif',serif" font-size="66" fill="#000">=</text>
<text transform="translate(1234.05,4645.40) scale(1.0205,1)" font-family="'Liberation Serif',serif" font-size="68" fill="#000">259</text>
<text transform="translate(1354.22,4645.40) scale(1.0159,1)" font-family="'Liberation Serif',serif" font-size="72" fill="#000">pixels</text>
</svg>
</body></html>
